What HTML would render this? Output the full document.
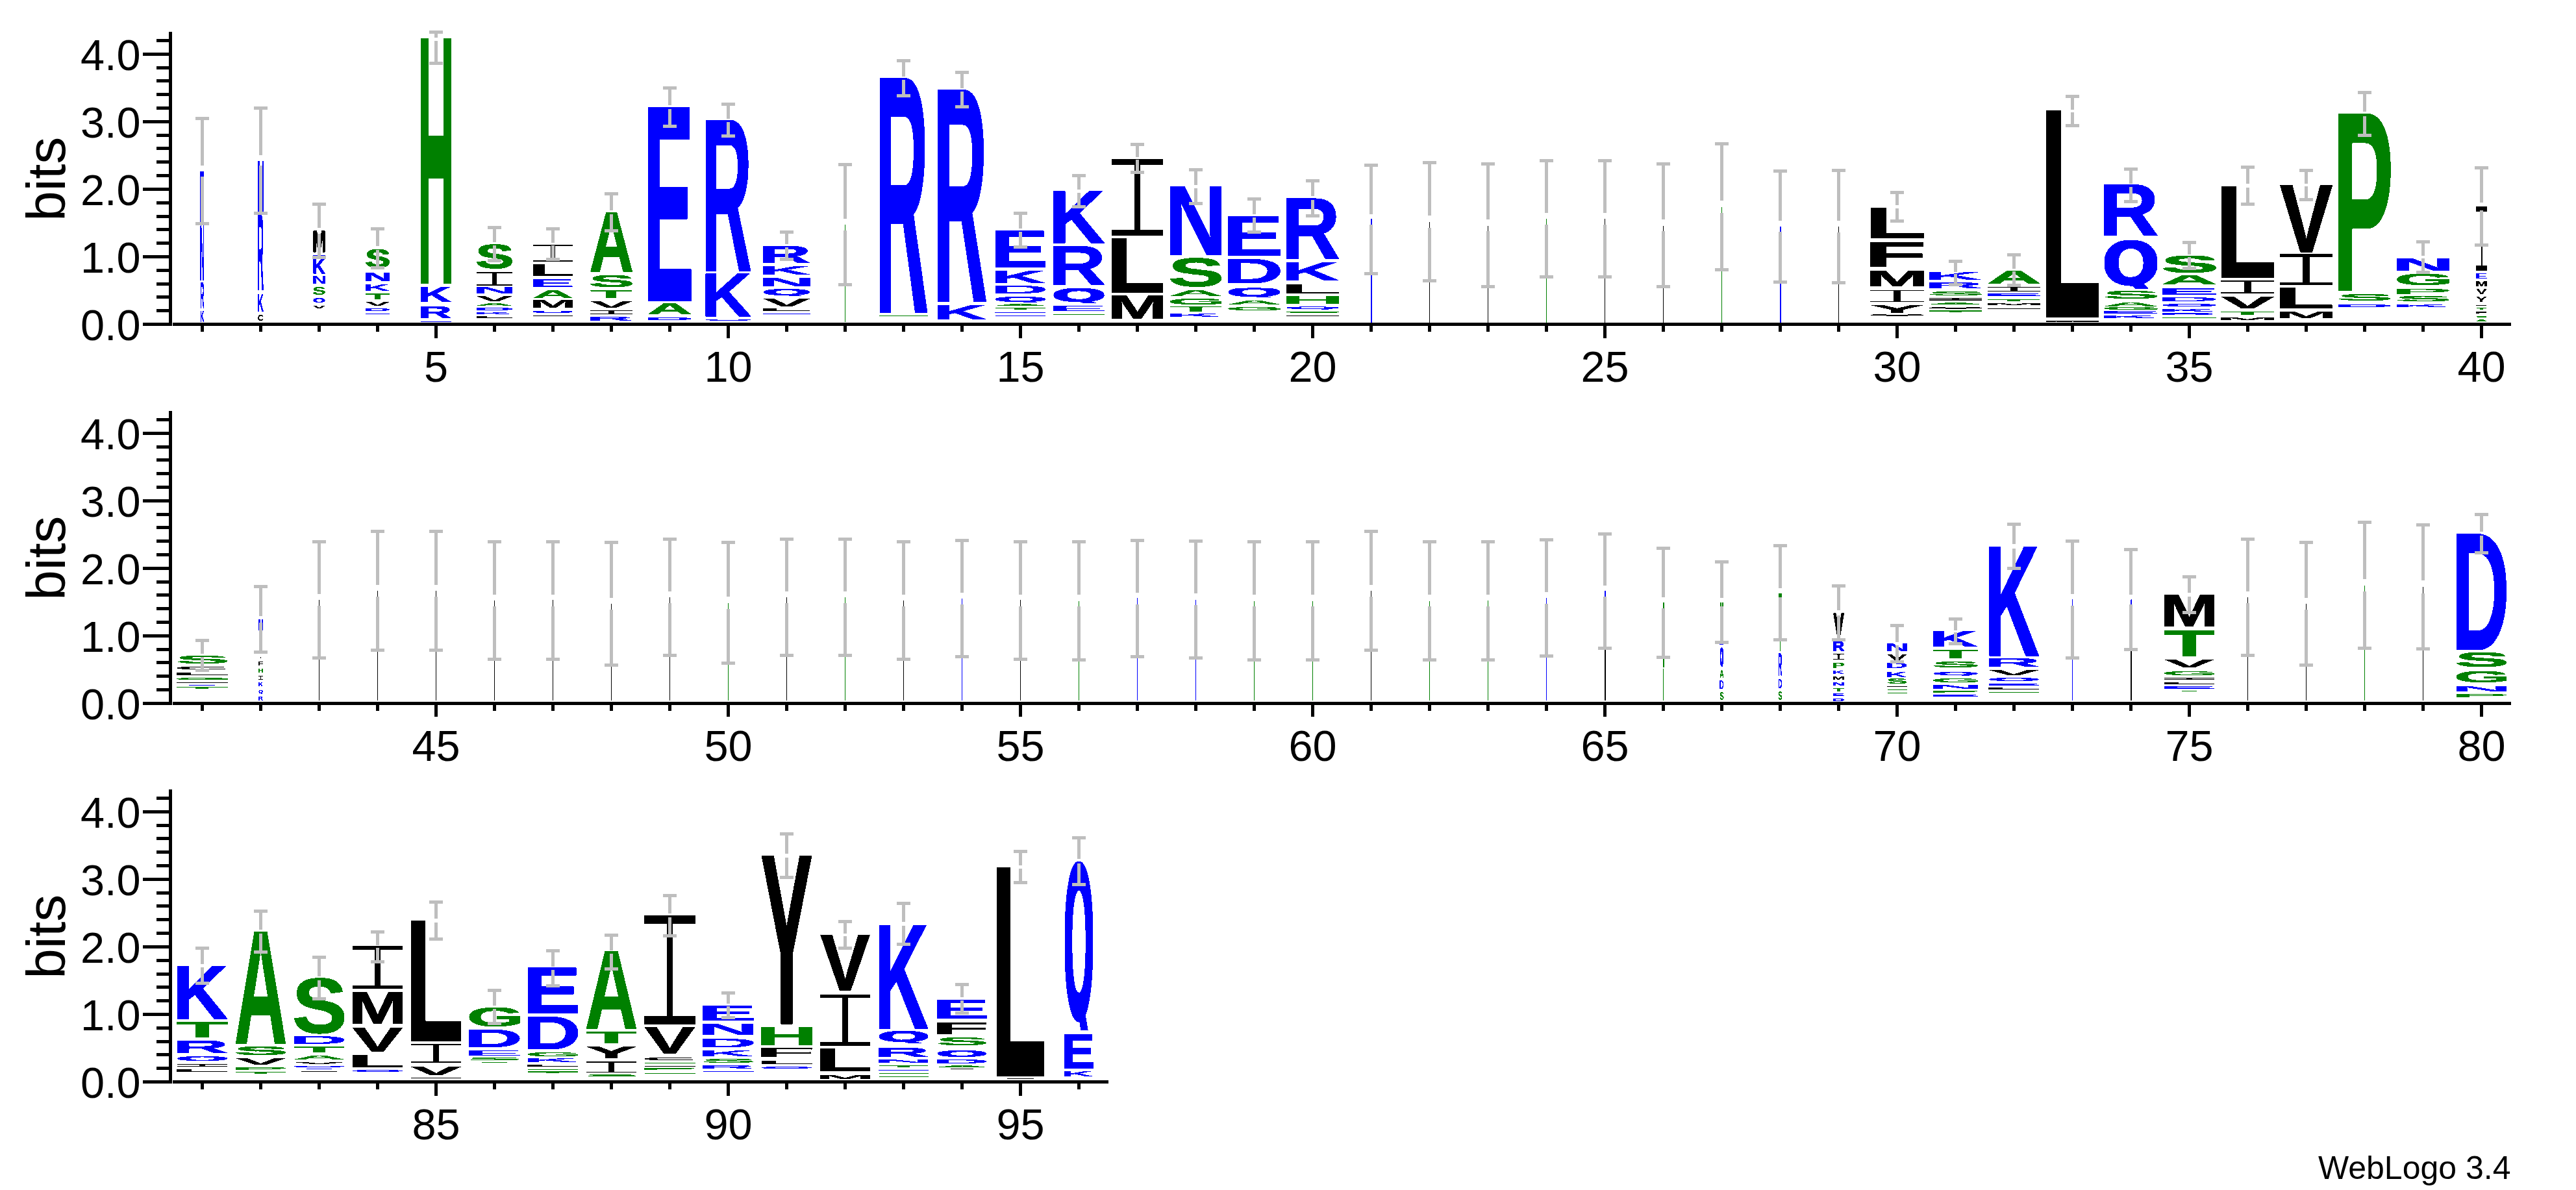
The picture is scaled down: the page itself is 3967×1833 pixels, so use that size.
<!DOCTYPE html>
<html><head><meta charset="utf-8"><title>WebLogo 3.4</title>
<style>
html,body{margin:0;padding:0;background:#fff}
svg{display:block}
text{font-family:"Liberation Sans",sans-serif}
.l{font-weight:bold;font-size:100px}
.i{font-family:"Liberation Mono",monospace;font-weight:normal;font-size:100px}
.q{font-family:"DejaVu Sans",sans-serif;font-weight:bold;font-size:100px}
.n{font-size:66.67px}
.b{fill:#0000ff}.g{fill:#008000}.k{fill:#000}
.s.b{stroke:#0000ff}.s.g{stroke:#008000}.s.k{stroke:#000}
.s{stroke-width:0.9px;vector-effect:non-scaling-stroke;stroke-linejoin:miter}
</style></head>
<body>
<svg width="3967" height="1833" viewBox="0 0 3967 1833" shape-rendering="crispEdges">
<rect width="3967" height="1833" fill="#fff"/>
<defs><filter id="al" filterUnits="userSpaceOnUse" x="0" y="0" width="3967" height="1833" color-interpolation-filters="sRGB"><feComponentTransfer><feFuncA type="discrete" tableValues="0 1 1"/></feComponentTransfer></filter></defs>
<g>
<rect x="260" y="48.9" width="5" height="453.2" fill="#000"/>
<rect x="220" y="497" width="40" height="5" fill="#000"/>
<text class="n" x="216.6" y="523.8" text-anchor="end">0.0</text>
<rect x="241" y="476.19" width="19" height="5" fill="#000"/>
<rect x="241" y="455.38" width="19" height="5" fill="#000"/>
<rect x="241" y="434.57" width="19" height="5" fill="#000"/>
<rect x="241" y="413.76" width="19" height="5" fill="#000"/>
<rect x="220" y="392.95" width="40" height="5" fill="#000"/>
<text class="n" x="216.6" y="419.75" text-anchor="end">1.0</text>
<rect x="241" y="372.14" width="19" height="5" fill="#000"/>
<rect x="241" y="351.33" width="19" height="5" fill="#000"/>
<rect x="241" y="330.52" width="19" height="5" fill="#000"/>
<rect x="241" y="309.71" width="19" height="5" fill="#000"/>
<rect x="220" y="288.9" width="40" height="5" fill="#000"/>
<text class="n" x="216.6" y="315.7" text-anchor="end">2.0</text>
<rect x="241" y="268.09" width="19" height="5" fill="#000"/>
<rect x="241" y="247.28" width="19" height="5" fill="#000"/>
<rect x="241" y="226.47" width="19" height="5" fill="#000"/>
<rect x="241" y="205.66" width="19" height="5" fill="#000"/>
<rect x="220" y="184.85" width="40" height="5" fill="#000"/>
<text class="n" x="216.6" y="211.65" text-anchor="end">3.0</text>
<rect x="241" y="164.04" width="19" height="5" fill="#000"/>
<rect x="241" y="143.23" width="19" height="5" fill="#000"/>
<rect x="241" y="122.42" width="19" height="5" fill="#000"/>
<rect x="241" y="101.61" width="19" height="5" fill="#000"/>
<rect x="220" y="80.8" width="40" height="5" fill="#000"/>
<text class="n" x="216.6" y="107.6" text-anchor="end">4.0</text>
<rect x="241" y="59.99" width="19" height="5" fill="#000"/>
<text font-size="83.33" text-anchor="middle" transform="translate(99.8 275.75) rotate(-90)">bits</text>
<rect x="266" y="496.9" width="3600.5" height="5.2" fill="#000"/>
<rect x="309" y="502" width="5" height="8.8" fill="#000"/>
<rect x="399" y="502" width="5" height="8.8" fill="#000"/>
<rect x="489" y="502" width="5" height="8.8" fill="#000"/>
<rect x="579" y="502" width="5" height="8.8" fill="#000"/>
<rect x="669" y="502" width="5" height="18.5" fill="#000"/>
<text class="n" x="671.5" y="587.7" text-anchor="middle">5</text>
<rect x="759" y="502" width="5" height="8.8" fill="#000"/>
<rect x="849" y="502" width="5" height="8.8" fill="#000"/>
<rect x="939" y="502" width="5" height="8.8" fill="#000"/>
<rect x="1029" y="502" width="5" height="8.8" fill="#000"/>
<rect x="1119" y="502" width="5" height="18.5" fill="#000"/>
<text class="n" x="1121.5" y="587.7" text-anchor="middle">10</text>
<rect x="1209" y="502" width="5" height="8.8" fill="#000"/>
<rect x="1299" y="502" width="5" height="8.8" fill="#000"/>
<rect x="1389" y="502" width="5" height="8.8" fill="#000"/>
<rect x="1479" y="502" width="5" height="8.8" fill="#000"/>
<rect x="1569" y="502" width="5" height="18.5" fill="#000"/>
<text class="n" x="1571.5" y="587.7" text-anchor="middle">15</text>
<rect x="1659" y="502" width="5" height="8.8" fill="#000"/>
<rect x="1749" y="502" width="5" height="8.8" fill="#000"/>
<rect x="1839" y="502" width="5" height="8.8" fill="#000"/>
<rect x="1929" y="502" width="5" height="8.8" fill="#000"/>
<rect x="2019" y="502" width="5" height="18.5" fill="#000"/>
<text class="n" x="2021.5" y="587.7" text-anchor="middle">20</text>
<rect x="2109" y="502" width="5" height="8.8" fill="#000"/>
<rect x="2199" y="502" width="5" height="8.8" fill="#000"/>
<rect x="2289" y="502" width="5" height="8.8" fill="#000"/>
<rect x="2379" y="502" width="5" height="8.8" fill="#000"/>
<rect x="2469" y="502" width="5" height="18.5" fill="#000"/>
<text class="n" x="2471.5" y="587.7" text-anchor="middle">25</text>
<rect x="2559" y="502" width="5" height="8.8" fill="#000"/>
<rect x="2649" y="502" width="5" height="8.8" fill="#000"/>
<rect x="2739" y="502" width="5" height="8.8" fill="#000"/>
<rect x="2829" y="502" width="5" height="8.8" fill="#000"/>
<rect x="2919" y="502" width="5" height="18.5" fill="#000"/>
<text class="n" x="2921.5" y="587.7" text-anchor="middle">30</text>
<rect x="3009" y="502" width="5" height="8.8" fill="#000"/>
<rect x="3099" y="502" width="5" height="8.8" fill="#000"/>
<rect x="3189" y="502" width="5" height="8.8" fill="#000"/>
<rect x="3279" y="502" width="5" height="8.8" fill="#000"/>
<rect x="3369" y="502" width="5" height="18.5" fill="#000"/>
<text class="n" x="3371.5" y="587.7" text-anchor="middle">35</text>
<rect x="3459" y="502" width="5" height="8.8" fill="#000"/>
<rect x="3549" y="502" width="5" height="8.8" fill="#000"/>
<rect x="3639" y="502" width="5" height="8.8" fill="#000"/>
<rect x="3729" y="502" width="5" height="8.8" fill="#000"/>
<rect x="3819" y="502" width="5" height="18.5" fill="#000"/>
<text class="n" x="3821.5" y="587.7" text-anchor="middle">40</text>
<g filter="url(#al)">
<text class="l b" transform="matrix(0.08514 0 0 0.24419 308.18 495.5)">K</text>
<text class="l b" transform="matrix(0.08665 0 0 0.57414 308.17 474.5)">R</text>
<text class="l b" transform="matrix(0.09355 0 0 1.22822 308.12 431.5)">N</text>
<text class="l b" transform="matrix(0.09803 0 0 1.15554 308.09 343)">E</text>
<text class="l k" transform="matrix(0.12848 0 0 0.13418 396.77 494.37)">C</text>
<text class="l b" transform="matrix(0.13003 0 0 0.39681 396.43 479.8)">K</text>
<text class="l b" transform="matrix(0.13233 0 0 1.69189 396.41 447)">R</text>
<text class="l b" transform="matrix(0.14288 0 0 1.15554 396.34 326.5)">N</text>
<text class="l k" transform="matrix(0.28317 0 0 0.06105 482.06 475.2)">V</text>
<svg x="482.25" y="458.8" width="18.5" height="7.3"><text class="q b" transform="matrix(0.24667 0 0 0.09169 -1.23 6.81)">Q</text></svg>
<text class="l g" transform="matrix(0.30879 0 0 0.16384 481.36 454.04)">S</text>
<text class="l b" transform="matrix(0.31468 0 0 0.17151 480.14 437.4)">N</text>
<text class="l s b" transform="matrix(0.26780 0 0 0.31687 481.06 421.4)">K</text>
<rect x="482.25" y="393" width="18.5" height="1" fill="#0000ff"/>
<text class="l b" transform="matrix(0.29145 0 0 0.01599 480.3 394.3)">R</text>
<text class="l s k" transform="matrix(0.24742 0 0 0.45640 481.19 388.4)">M</text>
<rect x="562.9" y="483" width="37.2" height="1" fill="#0000ff"/>
<text class="l b" transform="matrix(0.66306 0 0 0.01599 558.46 483.8)">E</text>
<text class="l b" transform="matrix(0.60657 0 0 0.06105 558.84 479.4)">D</text>
<text class="l k" transform="matrix(0.56940 0 0 0.09302 562.51 471.4)">V</text>
<text class="l g" transform="matrix(0.63172 0 0 0.12355 562.19 460.5)">T</text>
<text class="l b" transform="matrix(0.57585 0 0 0.15262 559.05 447.9)">K</text>
<text class="l s b" transform="matrix(0.61236 0 0 0.18314 559.4 432.6)">N</text>
<text class="l s g" transform="matrix(0.60088 0 0 0.41242 561.77 412)">S</text>
<rect x="648" y="495" width="47" height="1" fill="#0000ff"/>
<text class="l b" transform="matrix(0.83774 0 0 0.01744 642.4 495.7)">E</text>
<text class="l s b" transform="matrix(0.72153 0 0 0.26454 643.77 489.7)">R</text>
<text class="l s b" transform="matrix(0.70898 0 0 0.34012 643.86 465.1)">K</text>
<text class="l s g" transform="matrix(0.77906 0 0 5.47393 643.39 436.1)">H</text>
<text class="i k" transform="matrix(1.37612 0 0 0.31881 720.28 439.9)">I</text>
<rect x="733.25" y="420.54" width="24.77" height="17.72" fill="#fff"/>
<rect x="764.98" y="420.54" width="24.77" height="17.72" fill="#fff"/>
<text class="l k" transform="matrix(1.07759 0 0 0.03052 726.64 489.9)">L</text>
<text class="l b" transform="matrix(0.85604 0 0 0.04215 728.12 484.4)">K</text>
<text class="l b" transform="matrix(0.90171 0 0 0.05233 727.82 478.1)">D</text>
<text class="l g" transform="matrix(0.82427 0 0 0.05233 731.8 471.4)">A</text>
<text class="l k" transform="matrix(0.84645 0 0 0.10029 733.27 464)">V</text>
<text class="l b" transform="matrix(0.94065 0 0 0.13808 727.56 452.1)">N</text>
<text class="l s g" transform="matrix(0.90299 0 0 0.52118 731.85 412.89)">S</text>
<text class="i k" transform="matrix(1.52542 0 0 0.39320 805.8 402.7)">I</text>
<rect x="820.25" y="378.82" width="27.39" height="21.86" fill="#fff"/>
<rect x="855.36" y="378.82" width="27.39" height="21.86" fill="#fff"/>
<rect x="820.85" y="486" width="61.3" height="1" fill="#000000"/>
<text class="l k" transform="matrix(1.19450 0 0 0.01599 812.86 486.8)">L</text>
<svg x="820.85" y="478.7" width="61.3" height="3.8"><text class="q b" transform="matrix(0.81733 0 0 0.04773 -4.07 3.54)">Q</text></svg>
<text class="l k" transform="matrix(0.85953 0 0 0.15843 815.7 473.5)">M</text>
<text class="l g" transform="matrix(0.89581 0 0 0.16425 819.22 458.6)">A</text>
<text class="l b" transform="matrix(1.07123 0 0 0.16425 814.28 442)">E</text>
<text class="l s k" transform="matrix(1.17112 0 0 0.25291 813.62 425)">L</text>
<text class="i k" transform="matrix(1.61003 0 0 0.08350 893.27 483.6)">I</text>
<rect x="909.15" y="478" width="64.7" height="1" fill="#000000"/>
<rect x="909.15" y="483" width="64.7" height="1" fill="#000000"/>
<rect x="908.55" y="479" width="28.87" height="4" fill="#fff"/>
<rect x="945.58" y="479" width="28.87" height="4" fill="#fff"/>
<text class="l b" transform="matrix(1.01927 0 0 0.09157 902.33 494.1)">R</text>
<text class="l k" transform="matrix(0.99033 0 0 0.13808 908.47 473.5)">V</text>
<text class="l g" transform="matrix(1.07834 0 0 0.17297 908.54 459.2)">T</text>
<text class="l s g" transform="matrix(1.05989 0 0 0.24858 906.7 441.76)">S</text>
<text class="l s g" transform="matrix(0.94649 0 0 1.31979 907.39 418.3)">A</text>
<text class="l b" transform="matrix(1.08596 0 0 0.06105 990.94 493)">D</text>
<text class="l s g" transform="matrix(0.97481 0 0 0.23111 996.37 484.4)">A</text>
<text class="l s b" transform="matrix(1.16570 0 0 4.32711 991 463.4)">E</text>
<svg x="1086.5" y="492" width="70" height="2.5"><text class="q b" transform="matrix(0.93333 0 0 0.03140 -4.65 2.33)">Q</text></svg>
<text class="l s b" transform="matrix(1.06502 0 0 0.93752 1079.98 487.2)">K</text>
<text class="l s b" transform="matrix(1.08386 0 0 3.37070 1079.85 417.2)">R</text>
<text class="l s b" transform="matrix(1.11695 0 0 0.37501 1168.58 404.5)">R</text>
<text class="l s b" transform="matrix(1.09753 0 0 0.18169 1168.71 423.2)">K</text>
<text class="l s b" transform="matrix(1.20601 0 0 0.17733 1167.98 440.7)">N</text>
<svg x="1176.05" y="445.1" width="70.9" height="11"><text class="q b" transform="matrix(0.94533 0 0 0.13816 -4.71 10.25)">Q</text></svg>
<text class="l k" transform="matrix(1.10359 0 0 0.16425 1174.7 472)">V</text>
<text class="l k" transform="matrix(1.40496 0 0 0.05087 1166.05 479.4)">L</text>
<rect x="1175.45" y="483" width="72.1" height="1" fill="#0000ff"/>
<text class="l b" transform="matrix(1.28512 0 0 0.01744 1166.85 484.1)">E</text>
<rect x="1301" y="346.1" width="1" height="149.5" fill="#008000"/>
<text class="l g" transform="matrix(0.01698 0 0 2.17300 1300.98 495.6)">T</text>
<text class="l s b" transform="matrix(1.15003 0 0 5.24137 1347.31 481.4)">R</text>
<rect x="1354.4" y="486" width="74.2" height="1" fill="#008000"/>
<text class="l g" transform="matrix(1.26005 0 0 0.01890 1352.98 487.1)">T</text>
<text class="l s b" transform="matrix(1.17051 0 0 4.73119 1436.52 464.3)">R</text>
<text class="l s b" transform="matrix(1.15016 0 0 0.31541 1436.66 492.2)">K</text>
<text class="l s b" transform="matrix(1.35820 0 0 0.82414 1524.31 411.5)">E</text>
<text class="l s b" transform="matrix(1.17957 0 0 0.27326 1525.51 436.3)">K</text>
<text class="l b" transform="matrix(1.26206 0 0 0.17006 1524.36 451.8)">D</text>
<svg x="1532.8" y="457.2" width="77.4" height="8.7"><text class="q b" transform="matrix(1.03200 0 0 0.10928 -5.14 8.11)">Q</text></svg>
<text class="l g" transform="matrix(1.15368 0 0 0.02907 1529.93 471.2)">A</text>
<text class="l g" transform="matrix(1.31439 0 0 0.03052 1531.32 476.8)">T</text>
<rect x="1532.8" y="481" width="77.4" height="1" fill="#0000ff"/>
<text class="l b" transform="matrix(1.31657 0 0 0.01454 1523.99 481.6)">N</text>
<rect x="1532.8" y="486" width="77.4" height="1" fill="#0000ff"/>
<text class="l b" transform="matrix(1.21935 0 0 0.01744 1524.64 486.7)">R</text>
<text class="l s b" transform="matrix(1.20434 0 0 1.15700 1614.54 374.3)">K</text>
<text class="l s b" transform="matrix(1.22565 0 0 0.85031 1614.4 438.1)">R</text>
<svg x="1622.6" y="443.9" width="77.8" height="23"><text class="q s b" transform="matrix(1.03733 0 0 0.28889 -5.17 21.44)">Q</text></svg>
<text class="l b" transform="matrix(1.40811 0 0 0.10175 1612.58 479)">E</text>
<rect x="1622" y="484" width="79" height="1" fill="#008000"/>
<text class="l g" transform="matrix(1.34156 0 0 0.02035 1620.49 485.1)">T</text>
<text class="i k" transform="matrix(1.96588 0 0 1.78536 1692.61 362.8)">I</text>
<rect x="1711.4" y="254.37" width="35.12" height="99.25" fill="#fff"/>
<rect x="1756.48" y="254.37" width="35.12" height="99.25" fill="#fff"/>
<text class="l s k" transform="matrix(1.51603 0 0 1.19479 1702.46 449.9)">L</text>
<text class="l s k" transform="matrix(1.11267 0 0 0.51454 1705.16 491)">M</text>
<text class="l s b" transform="matrix(1.32678 0 0 1.52037 1793.62 392.3)">N</text>
<text class="l s g" transform="matrix(1.30191 0 0 0.62287 1798.75 441.49)">S</text>
<text class="l g" transform="matrix(1.18051 0 0 0.13663 1798.96 456.1)">A</text>
<text class="l g" transform="matrix(1.17367 0 0 0.13135 1797.09 468.77)">G</text>
<text class="l g" transform="matrix(1.34496 0 0 0.10175 1800.39 479.9)">T</text>
<text class="l b" transform="matrix(1.22601 0 0 0.06395 1793.7 488.1)">K</text>
<text class="l s b" transform="matrix(1.41346 0 0 0.89682 1882.39 394.4)">E</text>
<text class="l s b" transform="matrix(1.29304 0 0 0.53489 1883.2 436)">D</text>
<svg x="1891.85" y="443.4" width="79.3" height="14.9"><text class="q s b" transform="matrix(1.05733 0 0 0.18715 -5.27 13.89)">Q</text></svg>
<text class="l g" transform="matrix(1.19988 0 0 0.09302 1888.26 469.2)">A</text>
<text class="l g" transform="matrix(1.19294 0 0 0.06921 1886.36 478.43)">G</text>
<text class="l s b" transform="matrix(1.25558 0 0 1.34014 1973.25 397.9)">R</text>
<text class="l s b" transform="matrix(1.23375 0 0 0.41280 1973.4 432.1)">K</text>
<text class="l s k" transform="matrix(1.55305 0 0 0.19768 1971.26 451.7)">L</text>
<text class="l g" transform="matrix(1.37611 0 0 0.15698 1971.84 468)">H</text>
<svg x="1981.05" y="472.4" width="80.9" height="4.3"><text class="q b" transform="matrix(1.07867 0 0 0.05401 -5.37 4.01)">Q</text></svg>
<rect x="1981.05" y="480" width="80.9" height="1" fill="#008000"/>
<text class="l g" transform="matrix(1.35031 0 0 0.02401 1977.16 481.58)">S</text>
<rect x="1981.05" y="486" width="80.9" height="1" fill="#000000"/>
<text class="l k" transform="matrix(1.23829 0 0 0.01599 1980.2 486.9)">V</text>
<rect x="2111" y="337" width="2" height="159.5" fill="#0000ff"/>
<text class="l b" transform="matrix(0.03096 0 0 2.31835 2110.79 496.5)">K</text>
<rect x="2201" y="342.1" width="1" height="154.4" fill="#000000"/>
<text class="l k" transform="matrix(0.01949 0 0 2.24422 2200.87 496.5)">L</text>
<rect x="2291" y="347.6" width="1" height="148.9" fill="#000000"/>
<text class="l k" transform="matrix(0.01430 0 0 2.16428 2290.9 496.5)">M</text>
<rect x="2381" y="337" width="1" height="159.5" fill="#008000"/>
<text class="l g" transform="matrix(0.01669 0 0 2.25280 2380.95 494.3)">S</text>
<rect x="2471" y="337" width="1" height="159.5" fill="#000000"/>
<text class="l k" transform="matrix(0.01531 0 0 2.31835 2470.99 496.5)">V</text>
<rect x="2561" y="347.6" width="1" height="148.9" fill="#000000"/>
<text class="l k" transform="matrix(0.01949 0 0 2.16428 2560.87 496.5)">L</text>
<rect x="2651" y="318.7" width="1" height="177.8" fill="#008000"/>
<text class="l g" transform="matrix(0.01698 0 0 2.58435 2650.98 496.5)">T</text>
<rect x="2741" y="348.8" width="2" height="147.7" fill="#0000ff"/>
<text class="l b" transform="matrix(0.03565 0 0 2.14684 2740.76 496.5)">E</text>
<rect x="2831" y="348.8" width="1" height="147.7" fill="#000000"/>
<text class="l k" transform="matrix(0.01971 0 0 2.14684 2830.87 496.5)">F</text>
<text class="i k" transform="matrix(2.03556 0 0 0.28390 2860.52 465.1)">I</text>
<rect x="2880" y="447.86" width="36.35" height="15.78" fill="#fff"/>
<rect x="2926.65" y="447.86" width="36.35" height="15.78" fill="#fff"/>
<text class="l s k" transform="matrix(1.57059 0 0 0.69042 2870.69 366.9)">L</text>
<text class="l s k" transform="matrix(1.58873 0 0 0.55670 2870.57 411.2)">F</text>
<text class="l s k" transform="matrix(1.15272 0 0 0.35466 2873.49 441.4)">M</text>
<text class="l k" transform="matrix(1.29065 0 0 0.17297 2878.39 481.9)">Y</text>
<rect x="2880.6" y="485" width="81.8" height="1" fill="#000000"/>
<text class="l k" transform="matrix(1.25207 0 0 0.02616 2879.74 486.6)">V</text>
<text class="i k" transform="matrix(2.01316 0 0 0.05314 2951.19 462.5)">I</text>
<rect x="2971.05" y="459" width="80.9" height="1" fill="#000000"/>
<rect x="2971.05" y="461" width="80.9" height="1" fill="#000000"/>
<rect x="2970.45" y="460" width="35.95" height="1" fill="#fff"/>
<rect x="3016.6" y="460" width="35.95" height="1" fill="#fff"/>
<text class="l b" transform="matrix(1.25233 0 0 0.15989 2962.67 431.2)">K</text>
<text class="l b" transform="matrix(1.27449 0 0 0.12791 2962.52 443.8)">R</text>
<text class="l g" transform="matrix(1.35031 0 0 0.09181 2967.16 455.41)">S</text>
<text class="l g" transform="matrix(1.20585 0 0 0.03488 2968.05 469.4)">A</text>
<rect x="2971.05" y="474" width="80.9" height="1" fill="#000000"/>
<text class="l k" transform="matrix(1.23829 0 0 0.02762 2970.2 475.7)">V</text>
<rect x="2971.05" y="479" width="80.9" height="1" fill="#008000"/>
<text class="l g" transform="matrix(1.37382 0 0 0.02616 2969.51 481)">T</text>
<text class="i k" transform="matrix(2.01316 0 0 0.10172 3041.19 448.7)">I</text>
<rect x="3061.05" y="442" width="80.9" height="1" fill="#000000"/>
<rect x="3061.05" y="448" width="80.9" height="1" fill="#000000"/>
<rect x="3060.45" y="443" width="35.95" height="5" fill="#fff"/>
<rect x="3106.6" y="443" width="35.95" height="5" fill="#fff"/>
<text class="l s g" transform="matrix(1.18796 0 0 0.30378 3058.69 437.4)">A</text>
<text class="l b" transform="matrix(1.44198 0 0 0.04797 3051.4 456.3)">E</text>
<text class="l g" transform="matrix(1.37382 0 0 0.04361 3059.51 463.9)">T</text>
<text class="l k" transform="matrix(1.15701 0 0 0.03052 3053.31 470.3)">M</text>
<rect x="3061.05" y="475" width="80.9" height="1" fill="#000000"/>
<text class="l k" transform="matrix(1.57643 0 0 0.01454 3050.5 475.9)">L</text>
<text class="l s k" transform="matrix(1.55110 0 0 4.61345 3141.32 488.2)">L</text>
<rect x="3151.1" y="494" width="80.8" height="1" fill="#000000"/>
<text class="l k" transform="matrix(1.15558 0 0 0.02326 3143.37 495.7)">M</text>
<text class="l s b" transform="matrix(1.28236 0 0 1.12357 3232.22 363)">R</text>
<svg x="3240.8" y="370.2" width="81.4" height="74.2"><text class="q s b" transform="matrix(1.08533 0 0 0.93198 -5.41 69.17)">Q</text></svg>
<text class="l g" transform="matrix(1.35866 0 0 0.15819 3236.89 460.45)">S</text>
<text class="l g" transform="matrix(1.23118 0 0 0.08285 3237.13 471.7)">A</text>
<text class="l g" transform="matrix(1.22406 0 0 0.04943 3235.18 476.55)">G</text>
<text class="l b" transform="matrix(1.47228 0 0 0.04651 3230.35 483.1)">E</text>
<text class="l b" transform="matrix(1.27865 0 0 0.04651 3231.65 490.1)">K</text>
<text class="l s g" transform="matrix(1.35699 0 0 0.36440 3326.94 420.14)">S</text>
<text class="l s g" transform="matrix(1.21181 0 0 0.19622 3327.83 438.4)">A</text>
<text class="l b" transform="matrix(1.47050 0 0 0.14244 3320.41 453.9)">E</text>
<text class="l b" transform="matrix(1.34522 0 0 0.09157 3321.25 464.4)">D</text>
<svg x="3330.25" y="468.2" width="82.5" height="4.4"><text class="q b" transform="matrix(1.10000 0 0 0.05527 -5.48 4.1)">Q</text></svg>
<text class="l b" transform="matrix(1.27710 0 0 0.05669 3321.71 479.6)">K</text>
<text class="l b" transform="matrix(1.29969 0 0 0.03779 3321.56 485.3)">R</text>
<rect x="3330.25" y="489" width="82.5" height="1" fill="#008000"/>
<text class="l g" transform="matrix(1.40100 0 0 0.02035 3328.68 490.1)">T</text>
<text class="i k" transform="matrix(2.03556 0 0 0.30211 3400.52 452)">I</text>
<rect x="3420" y="433.65" width="36.35" height="16.8" fill="#fff"/>
<rect x="3466.65" y="433.65" width="36.35" height="16.8" fill="#fff"/>
<text class="l s k" transform="matrix(1.57059 0 0 2.03056 3410.69 427.4)">L</text>
<text class="l s k" transform="matrix(1.23370 0 0 0.26018 3420.36 474.6)">V</text>
<text class="l g" transform="matrix(1.38911 0 0 0.07122 3419.04 484.8)">T</text>
<text class="l k" transform="matrix(1.16988 0 0 0.05523 3412.77 493)">M</text>
<text class="i k" transform="matrix(2.02063 0 0 0.71505 3490.97 439)">I</text>
<rect x="3510.3" y="395.57" width="36.08" height="39.75" fill="#fff"/>
<rect x="3556.62" y="395.57" width="36.08" height="39.75" fill="#fff"/>
<text class="l s k" transform="matrix(1.22451 0 0 1.48404 3510.66 387.8)">V</text>
<text class="l s k" transform="matrix(1.55890 0 0 0.45350 3501.07 475.1)">L</text>
<text class="l k" transform="matrix(1.16130 0 0 0.14535 3503.13 490.1)">M</text>
<text class="l s g" transform="matrix(1.40833 0 0 3.94920 3592.23 447.2)">P</text>
<text class="l g" transform="matrix(1.33028 0 0 0.15395 3597.82 463.45)">S</text>
<text class="l b" transform="matrix(1.31913 0 0 0.05523 3592.23 472.9)">D</text>
<text class="l s b" transform="matrix(1.35059 0 0 0.28489 3682.77 416.5)">N</text>
<text class="l s g" transform="matrix(1.17664 0 0 0.24152 3686.97 438.76)">G</text>
<text class="l g" transform="matrix(1.42423 0 0 0.11337 3681.67 452.8)">P</text>
<text class="l g" transform="matrix(1.34530 0 0 0.10311 3687.32 464)">S</text>
<text class="l b" transform="matrix(1.24769 0 0 0.06105 3682.85 472.9)">K</text>
<text class="i k" transform="matrix(0.39566 0 0 1.49539 3809.65 416.8)">I</text>
<rect x="3812.95" y="325.98" width="7.55" height="83.13" fill="#fff"/>
<rect x="3822.5" y="325.98" width="7.55" height="83.13" fill="#fff"/>
<text class="l b" transform="matrix(0.28340 0 0 0.11047 3811.65 428.8)">E</text>
<text class="l k" transform="matrix(0.22740 0 0 0.11192 3812.03 440.6)">M</text>
<text class="l k" transform="matrix(0.24337 0 0 0.11337 3813.38 452.8)">V</text>
<text class="l k" transform="matrix(0.25087 0 0 0.11337 3813.12 465)">Y</text>
<rect x="3813.55" y="470" width="15.9" height="1" fill="#000000"/>
<text class="l k" transform="matrix(0.30983 0 0 0.02471 3811.48 470.7)">L</text>
<text class="l g" transform="matrix(0.27001 0 0 0.02907 3813.25 477.1)">T</text>
<rect x="3813.55" y="481" width="15.9" height="1" fill="#000000"/>
<text class="l k" transform="matrix(0.31341 0 0 0.02762 3811.45 482.9)">F</text>
<rect x="3813.55" y="487" width="15.9" height="1" fill="#008000"/>
<text class="l g" transform="matrix(0.26539 0 0 0.02401 3812.79 488.78)">S</text>
<text class="l g" transform="matrix(0.23700 0 0 0.03198 3812.96 495)">A</text>
</g>
<rect x="301" y="180" width="21" height="5" fill="#bebebe"/>
<rect x="301" y="342" width="21" height="5" fill="#bebebe"/>
<rect x="309" y="182.6" width="5" height="72.86" fill="#bebebe"/>
<rect x="309" y="271.64" width="5" height="72.86" fill="#bebebe"/>
<rect x="391" y="164" width="21" height="5" fill="#bebebe"/>
<rect x="391" y="326" width="21" height="5" fill="#bebebe"/>
<rect x="399" y="166.5" width="5" height="72.68" fill="#bebebe"/>
<rect x="399" y="255.32" width="5" height="72.68" fill="#bebebe"/>
<rect x="481" y="312" width="21" height="5" fill="#bebebe"/>
<rect x="481" y="394" width="21" height="5" fill="#bebebe"/>
<rect x="489" y="314.6" width="5" height="36.86" fill="#bebebe"/>
<rect x="489" y="359.64" width="5" height="36.86" fill="#bebebe"/>
<rect x="571" y="350" width="21" height="5" fill="#bebebe"/>
<rect x="571" y="410" width="21" height="5" fill="#bebebe"/>
<rect x="579" y="352.6" width="5" height="26.87" fill="#bebebe"/>
<rect x="579" y="385.44" width="5" height="26.86" fill="#bebebe"/>
<rect x="661" y="47" width="21" height="5" fill="#bebebe"/>
<rect x="661" y="95" width="21" height="5" fill="#bebebe"/>
<rect x="669" y="49.6" width="5" height="8.82" fill="#bebebe"/>
<rect x="669" y="63.21" width="5" height="34.29" fill="#bebebe"/>
<rect x="751" y="348" width="21" height="5" fill="#bebebe"/>
<rect x="751" y="399" width="21" height="5" fill="#bebebe"/>
<rect x="759" y="350.5" width="5" height="22.86" fill="#bebebe"/>
<rect x="759" y="378.44" width="5" height="22.86" fill="#bebebe"/>
<rect x="841" y="350" width="21" height="5" fill="#bebebe"/>
<rect x="841" y="397" width="21" height="5" fill="#bebebe"/>
<rect x="849" y="352.6" width="5" height="21.11" fill="#bebebe"/>
<rect x="849" y="378.39" width="5" height="21.11" fill="#bebebe"/>
<rect x="931" y="296" width="21" height="5" fill="#bebebe"/>
<rect x="931" y="353" width="21" height="5" fill="#bebebe"/>
<rect x="939" y="298.6" width="5" height="25.61" fill="#bebebe"/>
<rect x="939" y="329.89" width="5" height="25.61" fill="#bebebe"/>
<rect x="1021" y="133" width="21" height="5" fill="#bebebe"/>
<rect x="1021" y="192" width="21" height="5" fill="#bebebe"/>
<rect x="1029" y="135.2" width="5" height="26.55" fill="#bebebe"/>
<rect x="1029" y="167.65" width="5" height="26.55" fill="#bebebe"/>
<rect x="1111" y="158" width="21" height="5" fill="#bebebe"/>
<rect x="1111" y="207" width="21" height="5" fill="#bebebe"/>
<rect x="1119" y="161" width="5" height="21.96" fill="#bebebe"/>
<rect x="1119" y="187.84" width="5" height="21.96" fill="#bebebe"/>
<rect x="1201" y="355" width="21" height="5" fill="#bebebe"/>
<rect x="1201" y="397" width="21" height="5" fill="#bebebe"/>
<rect x="1209" y="357.5" width="5" height="18.86" fill="#bebebe"/>
<rect x="1209" y="380.54" width="5" height="18.86" fill="#bebebe"/>
<rect x="1291" y="251" width="21" height="5" fill="#bebebe"/>
<rect x="1291" y="436" width="21" height="5" fill="#bebebe"/>
<rect x="1299" y="253.4" width="5" height="83.21" fill="#bebebe"/>
<rect x="1299" y="355.1" width="5" height="83.2" fill="#bebebe"/>
<rect x="1381" y="91" width="21" height="5" fill="#bebebe"/>
<rect x="1381" y="145" width="21" height="5" fill="#bebebe"/>
<rect x="1389" y="93.5" width="5" height="24.12" fill="#bebebe"/>
<rect x="1389" y="122.98" width="5" height="24.12" fill="#bebebe"/>
<rect x="1471" y="109" width="21" height="5" fill="#bebebe"/>
<rect x="1471" y="162" width="21" height="5" fill="#bebebe"/>
<rect x="1479" y="111.9" width="5" height="23.76" fill="#bebebe"/>
<rect x="1479" y="140.94" width="5" height="23.76" fill="#bebebe"/>
<rect x="1561" y="326" width="21" height="5" fill="#bebebe"/>
<rect x="1561" y="378" width="21" height="5" fill="#bebebe"/>
<rect x="1569" y="328.8" width="5" height="23.35" fill="#bebebe"/>
<rect x="1569" y="357.35" width="5" height="23.35" fill="#bebebe"/>
<rect x="1651" y="268" width="21" height="5" fill="#bebebe"/>
<rect x="1651" y="316" width="21" height="5" fill="#bebebe"/>
<rect x="1659" y="270.2" width="5" height="21.65" fill="#bebebe"/>
<rect x="1659" y="296.65" width="5" height="21.65" fill="#bebebe"/>
<rect x="1741" y="220" width="21" height="5" fill="#bebebe"/>
<rect x="1741" y="263" width="21" height="5" fill="#bebebe"/>
<rect x="1749" y="222.1" width="5" height="19.71" fill="#bebebe"/>
<rect x="1749" y="246.19" width="5" height="19.71" fill="#bebebe"/>
<rect x="1831" y="259" width="21" height="5" fill="#bebebe"/>
<rect x="1831" y="311" width="21" height="5" fill="#bebebe"/>
<rect x="1839" y="261.2" width="5" height="23.4" fill="#bebebe"/>
<rect x="1839" y="289.8" width="5" height="23.4" fill="#bebebe"/>
<rect x="1921" y="304" width="21" height="5" fill="#bebebe"/>
<rect x="1921" y="355" width="21" height="5" fill="#bebebe"/>
<rect x="1929" y="307" width="5" height="22.68" fill="#bebebe"/>
<rect x="1929" y="334.72" width="5" height="22.68" fill="#bebebe"/>
<rect x="2011" y="276" width="21" height="5" fill="#bebebe"/>
<rect x="2011" y="330" width="21" height="5" fill="#bebebe"/>
<rect x="2019" y="278" width="5" height="24.44" fill="#bebebe"/>
<rect x="2019" y="307.87" width="5" height="24.44" fill="#bebebe"/>
<rect x="2101" y="252" width="21" height="5" fill="#bebebe"/>
<rect x="2101" y="419" width="21" height="5" fill="#bebebe"/>
<rect x="2109" y="254.6" width="5" height="75.06" fill="#bebebe"/>
<rect x="2109" y="346.34" width="5" height="75.06" fill="#bebebe"/>
<rect x="2191" y="248" width="21" height="5" fill="#bebebe"/>
<rect x="2191" y="430" width="21" height="5" fill="#bebebe"/>
<rect x="2199" y="250.7" width="5" height="81.76" fill="#bebebe"/>
<rect x="2199" y="350.63" width="5" height="81.77" fill="#bebebe"/>
<rect x="2281" y="250" width="21" height="5" fill="#bebebe"/>
<rect x="2281" y="439" width="21" height="5" fill="#bebebe"/>
<rect x="2289" y="252.6" width="5" height="84.96" fill="#bebebe"/>
<rect x="2289" y="356.44" width="5" height="84.96" fill="#bebebe"/>
<rect x="2371" y="245" width="21" height="5" fill="#bebebe"/>
<rect x="2371" y="424" width="21" height="5" fill="#bebebe"/>
<rect x="2379" y="247.5" width="5" height="80.55" fill="#bebebe"/>
<rect x="2379" y="345.95" width="5" height="80.55" fill="#bebebe"/>
<rect x="2461" y="245" width="21" height="5" fill="#bebebe"/>
<rect x="2461" y="424" width="21" height="5" fill="#bebebe"/>
<rect x="2469" y="247.5" width="5" height="80.55" fill="#bebebe"/>
<rect x="2469" y="345.95" width="5" height="80.55" fill="#bebebe"/>
<rect x="2551" y="250" width="21" height="5" fill="#bebebe"/>
<rect x="2551" y="439" width="21" height="5" fill="#bebebe"/>
<rect x="2559" y="252.6" width="5" height="84.96" fill="#bebebe"/>
<rect x="2559" y="356.44" width="5" height="84.96" fill="#bebebe"/>
<rect x="2641" y="219" width="21" height="5" fill="#bebebe"/>
<rect x="2641" y="413" width="21" height="5" fill="#bebebe"/>
<rect x="2649" y="221.7" width="5" height="87.25" fill="#bebebe"/>
<rect x="2649" y="328.34" width="5" height="87.26" fill="#bebebe"/>
<rect x="2731" y="261" width="21" height="5" fill="#bebebe"/>
<rect x="2731" y="432" width="21" height="5" fill="#bebebe"/>
<rect x="2739" y="263.6" width="5" height="76.81" fill="#bebebe"/>
<rect x="2739" y="357.49" width="5" height="76.81" fill="#bebebe"/>
<rect x="2821" y="260" width="21" height="5" fill="#bebebe"/>
<rect x="2821" y="433" width="21" height="5" fill="#bebebe"/>
<rect x="2829" y="262.4" width="5" height="77.89" fill="#bebebe"/>
<rect x="2829" y="357.61" width="5" height="77.89" fill="#bebebe"/>
<rect x="2911" y="294" width="21" height="5" fill="#bebebe"/>
<rect x="2911" y="338" width="21" height="5" fill="#bebebe"/>
<rect x="2919" y="296.8" width="5" height="19.66" fill="#bebebe"/>
<rect x="2919" y="320.83" width="5" height="19.67" fill="#bebebe"/>
<rect x="3001" y="400" width="21" height="5" fill="#bebebe"/>
<rect x="3001" y="436" width="21" height="5" fill="#bebebe"/>
<rect x="3009" y="402.5" width="5" height="16.15" fill="#bebebe"/>
<rect x="3009" y="422.25" width="5" height="16.15" fill="#bebebe"/>
<rect x="3091" y="390" width="21" height="5" fill="#bebebe"/>
<rect x="3091" y="437" width="21" height="5" fill="#bebebe"/>
<rect x="3099" y="392.5" width="5" height="21.15" fill="#bebebe"/>
<rect x="3099" y="418.35" width="5" height="21.15" fill="#bebebe"/>
<rect x="3181" y="146" width="21" height="5" fill="#bebebe"/>
<rect x="3181" y="191" width="21" height="5" fill="#bebebe"/>
<rect x="3189" y="148.6" width="5" height="20.07" fill="#bebebe"/>
<rect x="3189" y="173.13" width="5" height="20.07" fill="#bebebe"/>
<rect x="3271" y="258" width="21" height="5" fill="#bebebe"/>
<rect x="3271" y="308" width="21" height="5" fill="#bebebe"/>
<rect x="3279" y="260" width="5" height="22.5" fill="#bebebe"/>
<rect x="3279" y="287.5" width="5" height="22.5" fill="#bebebe"/>
<rect x="3361" y="371" width="21" height="5" fill="#bebebe"/>
<rect x="3361" y="411" width="21" height="5" fill="#bebebe"/>
<rect x="3369" y="373.8" width="5" height="17.86" fill="#bebebe"/>
<rect x="3369" y="395.63" width="5" height="17.87" fill="#bebebe"/>
<rect x="3451" y="255" width="21" height="5" fill="#bebebe"/>
<rect x="3451" y="312" width="21" height="5" fill="#bebebe"/>
<rect x="3459" y="257.7" width="5" height="25.69" fill="#bebebe"/>
<rect x="3459" y="289.11" width="5" height="25.69" fill="#bebebe"/>
<rect x="3541" y="260" width="21" height="5" fill="#bebebe"/>
<rect x="3541" y="305" width="21" height="5" fill="#bebebe"/>
<rect x="3549" y="262" width="5" height="20.56" fill="#bebebe"/>
<rect x="3549" y="287.13" width="5" height="20.56" fill="#bebebe"/>
<rect x="3631" y="140" width="21" height="5" fill="#bebebe"/>
<rect x="3631" y="206" width="21" height="5" fill="#bebebe"/>
<rect x="3639" y="142.8" width="5" height="29.34" fill="#bebebe"/>
<rect x="3639" y="178.66" width="5" height="29.34" fill="#bebebe"/>
<rect x="3721" y="370" width="21" height="5" fill="#bebebe"/>
<rect x="3721" y="417" width="21" height="5" fill="#bebebe"/>
<rect x="3729" y="372.4" width="5" height="21.11" fill="#bebebe"/>
<rect x="3729" y="398.2" width="5" height="21.1" fill="#bebebe"/>
<rect x="3811" y="256" width="21" height="5" fill="#bebebe"/>
<rect x="3811" y="375" width="21" height="5" fill="#bebebe"/>
<rect x="3819" y="258.5" width="5" height="53.6" fill="#bebebe"/>
<rect x="3819" y="324" width="5" height="53.6" fill="#bebebe"/>
</g>
<g>
<rect x="260" y="632.8" width="5" height="453.2" fill="#000"/>
<rect x="220" y="1080.9" width="40" height="5" fill="#000"/>
<text class="n" x="216.6" y="1107.7" text-anchor="end">0.0</text>
<rect x="241" y="1060.09" width="19" height="5" fill="#000"/>
<rect x="241" y="1039.28" width="19" height="5" fill="#000"/>
<rect x="241" y="1018.47" width="19" height="5" fill="#000"/>
<rect x="241" y="997.66" width="19" height="5" fill="#000"/>
<rect x="220" y="976.85" width="40" height="5" fill="#000"/>
<text class="n" x="216.6" y="1003.65" text-anchor="end">1.0</text>
<rect x="241" y="956.04" width="19" height="5" fill="#000"/>
<rect x="241" y="935.23" width="19" height="5" fill="#000"/>
<rect x="241" y="914.42" width="19" height="5" fill="#000"/>
<rect x="241" y="893.61" width="19" height="5" fill="#000"/>
<rect x="220" y="872.8" width="40" height="5" fill="#000"/>
<text class="n" x="216.6" y="899.6" text-anchor="end">2.0</text>
<rect x="241" y="851.99" width="19" height="5" fill="#000"/>
<rect x="241" y="831.18" width="19" height="5" fill="#000"/>
<rect x="241" y="810.37" width="19" height="5" fill="#000"/>
<rect x="241" y="789.56" width="19" height="5" fill="#000"/>
<rect x="220" y="768.75" width="40" height="5" fill="#000"/>
<text class="n" x="216.6" y="795.55" text-anchor="end">3.0</text>
<rect x="241" y="747.94" width="19" height="5" fill="#000"/>
<rect x="241" y="727.13" width="19" height="5" fill="#000"/>
<rect x="241" y="706.32" width="19" height="5" fill="#000"/>
<rect x="241" y="685.51" width="19" height="5" fill="#000"/>
<rect x="220" y="664.7" width="40" height="5" fill="#000"/>
<text class="n" x="216.6" y="691.5" text-anchor="end">4.0</text>
<rect x="241" y="643.89" width="19" height="5" fill="#000"/>
<text font-size="83.33" text-anchor="middle" transform="translate(99.8 859.65) rotate(-90)">bits</text>
<rect x="266" y="1080.8" width="3600.5" height="5.2" fill="#000"/>
<rect x="309" y="1085.9" width="5" height="8.8" fill="#000"/>
<rect x="399" y="1085.9" width="5" height="8.8" fill="#000"/>
<rect x="489" y="1085.9" width="5" height="8.8" fill="#000"/>
<rect x="579" y="1085.9" width="5" height="8.8" fill="#000"/>
<rect x="669" y="1085.9" width="5" height="18.5" fill="#000"/>
<text class="n" x="671.5" y="1171.6" text-anchor="middle">45</text>
<rect x="759" y="1085.9" width="5" height="8.8" fill="#000"/>
<rect x="849" y="1085.9" width="5" height="8.8" fill="#000"/>
<rect x="939" y="1085.9" width="5" height="8.8" fill="#000"/>
<rect x="1029" y="1085.9" width="5" height="8.8" fill="#000"/>
<rect x="1119" y="1085.9" width="5" height="18.5" fill="#000"/>
<text class="n" x="1121.5" y="1171.6" text-anchor="middle">50</text>
<rect x="1209" y="1085.9" width="5" height="8.8" fill="#000"/>
<rect x="1299" y="1085.9" width="5" height="8.8" fill="#000"/>
<rect x="1389" y="1085.9" width="5" height="8.8" fill="#000"/>
<rect x="1479" y="1085.9" width="5" height="8.8" fill="#000"/>
<rect x="1569" y="1085.9" width="5" height="18.5" fill="#000"/>
<text class="n" x="1571.5" y="1171.6" text-anchor="middle">55</text>
<rect x="1659" y="1085.9" width="5" height="8.8" fill="#000"/>
<rect x="1749" y="1085.9" width="5" height="8.8" fill="#000"/>
<rect x="1839" y="1085.9" width="5" height="8.8" fill="#000"/>
<rect x="1929" y="1085.9" width="5" height="8.8" fill="#000"/>
<rect x="2019" y="1085.9" width="5" height="18.5" fill="#000"/>
<text class="n" x="2021.5" y="1171.6" text-anchor="middle">60</text>
<rect x="2109" y="1085.9" width="5" height="8.8" fill="#000"/>
<rect x="2199" y="1085.9" width="5" height="8.8" fill="#000"/>
<rect x="2289" y="1085.9" width="5" height="8.8" fill="#000"/>
<rect x="2379" y="1085.9" width="5" height="8.8" fill="#000"/>
<rect x="2469" y="1085.9" width="5" height="18.5" fill="#000"/>
<text class="n" x="2471.5" y="1171.6" text-anchor="middle">65</text>
<rect x="2559" y="1085.9" width="5" height="8.8" fill="#000"/>
<rect x="2649" y="1085.9" width="5" height="8.8" fill="#000"/>
<rect x="2739" y="1085.9" width="5" height="8.8" fill="#000"/>
<rect x="2829" y="1085.9" width="5" height="8.8" fill="#000"/>
<rect x="2919" y="1085.9" width="5" height="18.5" fill="#000"/>
<text class="n" x="2921.5" y="1171.6" text-anchor="middle">70</text>
<rect x="3009" y="1085.9" width="5" height="8.8" fill="#000"/>
<rect x="3099" y="1085.9" width="5" height="8.8" fill="#000"/>
<rect x="3189" y="1085.9" width="5" height="8.8" fill="#000"/>
<rect x="3279" y="1085.9" width="5" height="8.8" fill="#000"/>
<rect x="3369" y="1085.9" width="5" height="18.5" fill="#000"/>
<text class="n" x="3371.5" y="1171.6" text-anchor="middle">75</text>
<rect x="3459" y="1085.9" width="5" height="8.8" fill="#000"/>
<rect x="3549" y="1085.9" width="5" height="8.8" fill="#000"/>
<rect x="3639" y="1085.9" width="5" height="8.8" fill="#000"/>
<rect x="3729" y="1085.9" width="5" height="8.8" fill="#000"/>
<rect x="3819" y="1085.9" width="5" height="18.5" fill="#000"/>
<text class="n" x="3821.5" y="1171.6" text-anchor="middle">80</text>
<g filter="url(#al)">
<text class="l g" transform="matrix(1.29857 0 0 0.16102 268.86 1021.94)">S</text>
<text class="l k" transform="matrix(1.20830 0 0 0.04802 267.04 1031.45)">C</text>
<text class="l k" transform="matrix(1.53941 0 0 0.05523 261.7 1040)">L</text>
<text class="l g" transform="matrix(1.17071 0 0 0.04237 267.2 1046.96)">G</text>
<rect x="272" y="1051" width="79" height="1" fill="#000000"/>
<text class="l k" transform="matrix(1.20921 0 0 0.01599 271.17 1052.1)">V</text>
<rect x="291.75" y="1055" width="39.5" height="1" fill="#0000ff"/>
<text class="l b" transform="matrix(0.70406 0 0 0.01454 287.04 1056)">E</text>
<text class="l g" transform="matrix(1.34156 0 0 0.03198 270.49 1061)">T</text>
<text class="i k" transform="matrix(0.15677 0 0 0.09868 396.8 1046.7)">I</text>
<text class="l b" transform="matrix(0.09925 0 0 0.09739 397.69 1078.5)">R</text>
<svg x="398.35" y="1062.4" width="6.3" height="6"><text class="q b" transform="matrix(0.08400 0 0 0.07536 -0.42 5.59)">Q</text></svg>
<text class="l b" transform="matrix(0.09752 0 0 0.09739 397.7 1057)">K</text>
<text class="l g" transform="matrix(0.10716 0 0 0.09302 397.63 1035.9)">H</text>
<text class="l k" transform="matrix(0.12418 0 0 0.09302 397.52 1024.8)">F</text>
<text class="l k" transform="matrix(0.02455 0 0 0.10320 400.71 1014)">L</text>
<text class="l g" transform="matrix(0.10515 0 0 0.03672 398.05 978.66)">S</text>
<text class="l b" transform="matrix(0.10716 0 0 0.24419 397.63 971)">N</text>
<rect x="491" y="924.3" width="1" height="154.7" fill="#000000"/>
<text class="l k" transform="matrix(0.01949 0 0 2.24858 490.87 1079)">L</text>
<rect x="581" y="910" width="1" height="169" fill="#000000"/>
<text class="l k" transform="matrix(0.01531 0 0 2.45644 580.99 1079)">V</text>
<rect x="671" y="910" width="1" height="169" fill="#000000"/>
<text class="l k" transform="matrix(0.01430 0 0 2.45644 670.9 1079)">M</text>
<rect x="761" y="925" width="1" height="154" fill="#000000"/>
<text class="l k" transform="matrix(0.01949 0 0 2.23841 760.87 1079)">L</text>
<rect x="851" y="925" width="1" height="154" fill="#000000"/>
<text class="l k" transform="matrix(0.01971 0 0 2.23841 850.87 1079)">F</text>
<rect x="941" y="930.4" width="1" height="148.6" fill="#000000"/>
<text class="l k" transform="matrix(0.01578 0 0 2.15992 940.97 1079)">Y</text>
<rect x="1031" y="920" width="1" height="159" fill="#000000"/>
<text class="l k" transform="matrix(0.01062 0 0 2.31109 1031 1079)">W</text>
<rect x="1121" y="929.3" width="1" height="149.7" fill="#008000"/>
<text class="l g" transform="matrix(0.01669 0 0 2.11438 1120.95 1076.94)">S</text>
<rect x="1211" y="920" width="1" height="159" fill="#000000"/>
<text class="l k" transform="matrix(0.01949 0 0 2.31109 1210.87 1079)">L</text>
<rect x="1301" y="920" width="1" height="159" fill="#008000"/>
<text class="l g" transform="matrix(0.01698 0 0 2.31109 1300.98 1079)">T</text>
<rect x="1391" y="925" width="1" height="154" fill="#000000"/>
<text class="l k" transform="matrix(0.01531 0 0 2.23841 1390.99 1079)">V</text>
<rect x="1481" y="922.1" width="1" height="156.9" fill="#0000ff"/>
<text class="l b" transform="matrix(0.01548 0 0 2.28056 1480.9 1079)">K</text>
<rect x="1571" y="925" width="1" height="154" fill="#000000"/>
<text class="l k" transform="matrix(0.01430 0 0 2.23841 1570.9 1079)">M</text>
<rect x="1661" y="926.1" width="1" height="152.9" fill="#008000"/>
<text class="l g" transform="matrix(0.01491 0 0 2.22242 1660.96 1079)">A</text>
<rect x="1751" y="922.1" width="1" height="156.9" fill="#0000ff"/>
<text class="l b" transform="matrix(0.01782 0 0 2.28056 1750.88 1079)">E</text>
<rect x="1841" y="924.3" width="1" height="154.7" fill="#0000ff"/>
<text class="l b" transform="matrix(0.01575 0 0 2.24858 1840.89 1079)">R</text>
<rect x="1931" y="926.1" width="1" height="152.9" fill="#008000"/>
<text class="l g" transform="matrix(0.01482 0 0 2.15958 1930.94 1076.89)">G</text>
<rect x="2021" y="926.1" width="1" height="152.9" fill="#008000"/>
<text class="l g" transform="matrix(0.01767 0 0 2.22242 2020.88 1079)">P</text>
<rect x="2111" y="910" width="1" height="169" fill="#000000"/>
<text class="l k" transform="matrix(0.01949 0 0 2.45644 2110.87 1079)">L</text>
<rect x="2201" y="926.1" width="1" height="152.9" fill="#008000"/>
<text class="l g" transform="matrix(0.01669 0 0 2.15958 2200.95 1076.89)">S</text>
<rect x="2291" y="926.1" width="1" height="152.9" fill="#008000"/>
<text class="l g" transform="matrix(0.01698 0 0 2.22242 2290.98 1079)">T</text>
<rect x="2381" y="921.4" width="1" height="157.6" fill="#0000ff"/>
<text class="l b" transform="matrix(0.01631 0 0 2.29074 2380.89 1079)">D</text>
<rect x="2471" y="910" width="2" height="84" fill="#0000ff"/>
<text class="l b" transform="matrix(0.03096 0 0 1.22095 2470.79 994)">K</text>
<rect x="2471" y="998" width="2" height="81" fill="#000000"/>
<text class="l k" transform="matrix(0.03897 0 0 1.17735 2470.74 1079)">L</text>
<rect x="2561" y="927.7" width="2" height="100.3" fill="#008000"/>
<text class="l g" transform="matrix(0.03338 0 0 1.41665 2560.9 1026.62)">S</text>
<rect x="2561" y="1031" width="1" height="48" fill="#008000"/>
<text class="l g" transform="matrix(0.01698 0 0 0.69769 2560.98 1079)">T</text>
<text class="l g" transform="matrix(0.09347 0 0 0.15960 2648.43 1077.54)">S</text>
<text class="l b" transform="matrix(0.09131 0 0 0.17442 2648.09 1061.3)">D</text>
<text class="l g" transform="matrix(0.08347 0 0 0.16279 2648.49 1044.2)">A</text>
<svg x="2648.7" y="997.4" width="5.6" height="29.5"><text class="q s b" transform="matrix(0.07467 0 0 0.37053 -0.37 27.5)">Q</text></svg>
<rect x="2648.7" y="992" width="5.6" height="1" fill="#0000ff"/>
<text class="l b" transform="matrix(0.09982 0 0 0.01744 2648.03 993)">E</text>
<text class="l g" transform="matrix(0.07620 0 0 0.86629 2648.75 988)">H</text>
<text class="l g" transform="matrix(0.08846 0 0 0.17514 2738.6 1077.53)">S</text>
<text class="l b" transform="matrix(0.08642 0 0 0.20349 2738.27 1060.1)">D</text>
<text class="l b" transform="matrix(0.08350 0 0 0.49419 2738.29 1041.3)">R</text>
<text class="l g" transform="matrix(0.02250 0 0 0.22093 2740.81 1003)">T</text>
<text class="l g" transform="matrix(0.09000 0 0 1.02037 2738.75 983.5)">T</text>
<text class="i k" transform="matrix(0.42304 0 0 0.12904 2818.83 1015.8)">I</text>
<rect x="2822.4" y="1008.58" width="8.03" height="5.93" fill="#fff"/>
<rect x="2832.57" y="1008.58" width="8.03" height="5.93" fill="#fff"/>
<text class="l s k" transform="matrix(0.24184 0 0 0.54507 2823.43 982.4)">V</text>
<text class="l s b" transform="matrix(0.24891 0 0 0.19768 2821.93 1002.1)">R</text>
<text class="l g" transform="matrix(0.30040 0 0 0.11628 2820.99 1028.5)">P</text>
<text class="l b" transform="matrix(0.26316 0 0 0.07413 2821.24 1037.6)">K</text>
<text class="l k" transform="matrix(0.24313 0 0 0.06541 2821.37 1046.6)">M</text>
<text class="l b" transform="matrix(0.28917 0 0 0.07413 2821.07 1055.7)">N</text>
<text class="l g" transform="matrix(0.28869 0 0 0.07413 2822.68 1064.8)">T</text>
<text class="l b" transform="matrix(0.30301 0 0 0.05233 2820.97 1072.4)">E</text>
<text class="l b" transform="matrix(0.27720 0 0 0.04651 2821.15 1079.6)">D</text>
<text class="l b" transform="matrix(0.51030 0 0 0.16570 2903.09 1002.7)">N</text>
<text class="l k" transform="matrix(0.45919 0 0 0.13518 2906.19 1016.6)">V</text>
<text class="l b" transform="matrix(0.48917 0 0 0.10465 2903.23 1029.3)">D</text>
<text class="l b" transform="matrix(0.46440 0 0 0.11628 2903.39 1042.6)">K</text>
<text class="l g" transform="matrix(0.50073 0 0 0.10593 2905.06 1053.2)">S</text>
<rect x="2906.5" y="1057" width="30" height="1" fill="#000000"/>
<text class="l k" transform="matrix(0.58459 0 0 0.01599 2902.59 1058.1)">L</text>
<rect x="2906.5" y="1062" width="30" height="1" fill="#008000"/>
<text class="l g" transform="matrix(0.50945 0 0 0.01744 2905.93 1062.9)">T</text>
<rect x="2906.5" y="1067" width="30" height="1" fill="#008000"/>
<text class="l g" transform="matrix(0.44716 0 0 0.02326 2905.39 1068)">A</text>
<text class="l s b" transform="matrix(1.04335 0 0 0.34594 2970.82 996.4)">K</text>
<text class="l s g" transform="matrix(1.14457 0 0 0.17878 2976.51 1014.1)">T</text>
<text class="l g" transform="matrix(1.14501 0 0 0.13559 2973.9 1028.37)">S</text>
<svg x="2977.2" y="1034.2" width="68.6" height="6.2"><text class="q b" transform="matrix(0.91467 0 0 0.07787 -4.56 5.78)">Q</text></svg>
<text class="l g" transform="matrix(1.01659 0 0 0.08333 2973.03 1051.12)">G</text>
<text class="l b" transform="matrix(1.16688 0 0 0.08140 2969.39 1060.5)">N</text>
<text class="l g" transform="matrix(1.21219 0 0 0.03779 2969.09 1066.9)">P</text>
<text class="l b" transform="matrix(1.22274 0 0 0.03052 2969.02 1072.7)">E</text>
<text class="l s b" transform="matrix(1.17648 0 0 2.43754 3055.63 1009.5)">K</text>
<text class="l s b" transform="matrix(1.19729 0 0 0.17878 3055.49 1027.2)">R</text>
<text class="l k" transform="matrix(1.18166 0 0 0.10175 3062.09 1040)">V</text>
<svg x="3062.9" y="1043.9" width="77.2" height="5.2"><text class="q b" transform="matrix(1.02933 0 0 0.06531 -5.13 4.85)">Q</text></svg>
<text class="l b" transform="matrix(1.37603 0 0 0.03052 3053.7 1056.1)">E</text>
<text class="l k" transform="matrix(1.50433 0 0 0.02907 3052.84 1061.9)">L</text>
<rect x="3062.9" y="1066" width="77.2" height="1" fill="#008000"/>
<text class="l g" transform="matrix(1.31099 0 0 0.01744 3061.43 1066.9)">T</text>
<rect x="3191" y="923.6" width="1" height="155.4" fill="#0000ff"/>
<text class="l b" transform="matrix(0.01548 0 0 2.25876 3190.9 1079)">K</text>
<rect x="3281" y="923.6" width="2" height="72.4" fill="#0000ff"/>
<text class="l b" transform="matrix(0.03096 0 0 1.05234 3280.79 996)">K</text>
<rect x="3281" y="1001" width="2" height="78" fill="#000000"/>
<text class="l k" transform="matrix(0.03897 0 0 1.13374 3280.74 1079)">L</text>
<text class="i k" transform="matrix(1.92607 0 0 0.04403 3313.8 1046.8)">I</text>
<rect x="3332.8" y="1044" width="77.4" height="1" fill="#000000"/>
<rect x="3332.8" y="1046" width="77.4" height="1" fill="#000000"/>
<rect x="3332.2" y="1045" width="34.42" height="1" fill="#fff"/>
<rect x="3376.38" y="1045" width="34.42" height="1" fill="#fff"/>
<text class="l s k" transform="matrix(1.08979 0 0 0.70350 3326.11 965.2)">M</text>
<text class="l s g" transform="matrix(1.29401 0 0 0.57559 3331.95 1011.3)">T</text>
<text class="l k" transform="matrix(1.16635 0 0 0.16425 3332.6 1027.9)">V</text>
<text class="l g" transform="matrix(1.14700 0 0 0.09887 3328.1 1039.9)">G</text>
<text class="l k" transform="matrix(1.50823 0 0 0.04361 3322.71 1053.8)">L</text>
<text class="l b" transform="matrix(1.37959 0 0 0.05087 3323.57 1061.3)">E</text>
<rect x="3359.89" y="1064" width="23.22" height="1" fill="#008000"/>
<text class="l g" transform="matrix(0.38757 0 0 0.01836 3358.77 1065.18)">S</text>
<rect x="3461" y="920" width="1" height="159" fill="#000000"/>
<text class="l k" transform="matrix(0.01949 0 0 2.31109 3460.87 1079)">L</text>
<rect x="3551" y="930.4" width="1" height="148.6" fill="#000000"/>
<text class="l k" transform="matrix(0.01531 0 0 2.15992 3550.99 1079)">V</text>
<rect x="3641" y="902.1" width="1" height="176.9" fill="#008000"/>
<text class="l g" transform="matrix(0.01669 0 0 2.49856 3640.95 1076.56)">S</text>
<rect x="3731" y="903.9" width="1" height="175.1" fill="#000000"/>
<text class="l k" transform="matrix(0.01430 0 0 2.54510 3730.9 1079)">M</text>
<text class="l s b" transform="matrix(1.24250 0 0 2.58725 3775.09 1000.5)">D</text>
<text class="l s g" transform="matrix(1.27186 0 0 0.30649 3779.74 1027.2)">S</text>
<text class="l s g" transform="matrix(1.12922 0 0 0.24011 3778.77 1051.37)">G</text>
<text class="l b" transform="matrix(1.31657 0 0 0.10901 3773.99 1064.8)">N</text>
<text class="l g" transform="matrix(1.36769 0 0 0.06832 3773.65 1073.9)">P</text>
</g>
<rect x="301" y="984" width="21" height="5" fill="#bebebe"/>
<rect x="301" y="1030" width="21" height="5" fill="#bebebe"/>
<rect x="309" y="986.6" width="5" height="20.65" fill="#bebebe"/>
<rect x="309" y="1011.84" width="5" height="20.66" fill="#bebebe"/>
<rect x="391" y="901" width="21" height="5" fill="#bebebe"/>
<rect x="391" y="1002" width="21" height="5" fill="#bebebe"/>
<rect x="399" y="903.4" width="5" height="45.5" fill="#bebebe"/>
<rect x="399" y="959" width="5" height="45.5" fill="#bebebe"/>
<rect x="481" y="832" width="21" height="5" fill="#bebebe"/>
<rect x="481" y="1011" width="21" height="5" fill="#bebebe"/>
<rect x="489" y="834.5" width="5" height="80.5" fill="#bebebe"/>
<rect x="489" y="932.89" width="5" height="80.5" fill="#bebebe"/>
<rect x="571" y="816" width="21" height="5" fill="#bebebe"/>
<rect x="571" y="999" width="21" height="5" fill="#bebebe"/>
<rect x="579" y="818.4" width="5" height="82.44" fill="#bebebe"/>
<rect x="579" y="919.16" width="5" height="82.44" fill="#bebebe"/>
<rect x="661" y="816" width="21" height="5" fill="#bebebe"/>
<rect x="661" y="999" width="21" height="5" fill="#bebebe"/>
<rect x="669" y="818.4" width="5" height="82.44" fill="#bebebe"/>
<rect x="669" y="919.16" width="5" height="82.44" fill="#bebebe"/>
<rect x="751" y="832" width="21" height="5" fill="#bebebe"/>
<rect x="751" y="1013" width="21" height="5" fill="#bebebe"/>
<rect x="759" y="834.5" width="5" height="81.32" fill="#bebebe"/>
<rect x="759" y="933.88" width="5" height="81.32" fill="#bebebe"/>
<rect x="841" y="832" width="21" height="5" fill="#bebebe"/>
<rect x="841" y="1013" width="21" height="5" fill="#bebebe"/>
<rect x="849" y="834.5" width="5" height="81.32" fill="#bebebe"/>
<rect x="849" y="933.88" width="5" height="81.32" fill="#bebebe"/>
<rect x="931" y="833" width="21" height="5" fill="#bebebe"/>
<rect x="931" y="1022" width="21" height="5" fill="#bebebe"/>
<rect x="939" y="835.5" width="5" height="85.05" fill="#bebebe"/>
<rect x="939" y="939.45" width="5" height="85.05" fill="#bebebe"/>
<rect x="1021" y="828" width="21" height="5" fill="#bebebe"/>
<rect x="1021" y="1007" width="21" height="5" fill="#bebebe"/>
<rect x="1029" y="830.5" width="5" height="80.55" fill="#bebebe"/>
<rect x="1029" y="928.95" width="5" height="80.55" fill="#bebebe"/>
<rect x="1111" y="833" width="21" height="5" fill="#bebebe"/>
<rect x="1111" y="1019" width="21" height="5" fill="#bebebe"/>
<rect x="1119" y="835.5" width="5" height="83.75" fill="#bebebe"/>
<rect x="1119" y="937.86" width="5" height="83.75" fill="#bebebe"/>
<rect x="1201" y="828" width="21" height="5" fill="#bebebe"/>
<rect x="1201" y="1007" width="21" height="5" fill="#bebebe"/>
<rect x="1209" y="830.5" width="5" height="80.55" fill="#bebebe"/>
<rect x="1209" y="928.95" width="5" height="80.55" fill="#bebebe"/>
<rect x="1291" y="828" width="21" height="5" fill="#bebebe"/>
<rect x="1291" y="1007" width="21" height="5" fill="#bebebe"/>
<rect x="1299" y="830.5" width="5" height="80.55" fill="#bebebe"/>
<rect x="1299" y="928.95" width="5" height="80.55" fill="#bebebe"/>
<rect x="1381" y="832" width="21" height="5" fill="#bebebe"/>
<rect x="1381" y="1013" width="21" height="5" fill="#bebebe"/>
<rect x="1389" y="834.5" width="5" height="81.32" fill="#bebebe"/>
<rect x="1389" y="933.88" width="5" height="81.32" fill="#bebebe"/>
<rect x="1471" y="830" width="21" height="5" fill="#bebebe"/>
<rect x="1471" y="1009" width="21" height="5" fill="#bebebe"/>
<rect x="1479" y="832.7" width="5" height="80.5" fill="#bebebe"/>
<rect x="1479" y="931.1" width="5" height="80.5" fill="#bebebe"/>
<rect x="1561" y="832" width="21" height="5" fill="#bebebe"/>
<rect x="1561" y="1013" width="21" height="5" fill="#bebebe"/>
<rect x="1569" y="834.5" width="5" height="81.32" fill="#bebebe"/>
<rect x="1569" y="933.88" width="5" height="81.32" fill="#bebebe"/>
<rect x="1651" y="832" width="21" height="5" fill="#bebebe"/>
<rect x="1651" y="1014" width="21" height="5" fill="#bebebe"/>
<rect x="1659" y="834.5" width="5" height="81.81" fill="#bebebe"/>
<rect x="1659" y="934.49" width="5" height="81.81" fill="#bebebe"/>
<rect x="1741" y="830" width="21" height="5" fill="#bebebe"/>
<rect x="1741" y="1009" width="21" height="5" fill="#bebebe"/>
<rect x="1749" y="832.7" width="5" height="80.5" fill="#bebebe"/>
<rect x="1749" y="931.1" width="5" height="80.5" fill="#bebebe"/>
<rect x="1831" y="831" width="21" height="5" fill="#bebebe"/>
<rect x="1831" y="1011" width="21" height="5" fill="#bebebe"/>
<rect x="1839" y="833.4" width="5" height="81" fill="#bebebe"/>
<rect x="1839" y="932.4" width="5" height="81" fill="#bebebe"/>
<rect x="1921" y="832" width="21" height="5" fill="#bebebe"/>
<rect x="1921" y="1014" width="21" height="5" fill="#bebebe"/>
<rect x="1929" y="834.5" width="5" height="81.81" fill="#bebebe"/>
<rect x="1929" y="934.49" width="5" height="81.81" fill="#bebebe"/>
<rect x="2011" y="832" width="21" height="5" fill="#bebebe"/>
<rect x="2011" y="1014" width="21" height="5" fill="#bebebe"/>
<rect x="2019" y="834.5" width="5" height="81.81" fill="#bebebe"/>
<rect x="2019" y="934.49" width="5" height="81.81" fill="#bebebe"/>
<rect x="2101" y="816" width="21" height="5" fill="#bebebe"/>
<rect x="2101" y="999" width="21" height="5" fill="#bebebe"/>
<rect x="2109" y="818.4" width="5" height="82.44" fill="#bebebe"/>
<rect x="2109" y="919.16" width="5" height="82.44" fill="#bebebe"/>
<rect x="2191" y="832" width="21" height="5" fill="#bebebe"/>
<rect x="2191" y="1014" width="21" height="5" fill="#bebebe"/>
<rect x="2199" y="834.5" width="5" height="81.81" fill="#bebebe"/>
<rect x="2199" y="934.49" width="5" height="81.81" fill="#bebebe"/>
<rect x="2281" y="832" width="21" height="5" fill="#bebebe"/>
<rect x="2281" y="1014" width="21" height="5" fill="#bebebe"/>
<rect x="2289" y="834.5" width="5" height="81.81" fill="#bebebe"/>
<rect x="2289" y="934.49" width="5" height="81.81" fill="#bebebe"/>
<rect x="2371" y="829" width="21" height="5" fill="#bebebe"/>
<rect x="2371" y="1008" width="21" height="5" fill="#bebebe"/>
<rect x="2379" y="831.6" width="5" height="80.5" fill="#bebebe"/>
<rect x="2379" y="930" width="5" height="80.5" fill="#bebebe"/>
<rect x="2461" y="820" width="21" height="5" fill="#bebebe"/>
<rect x="2461" y="996" width="21" height="5" fill="#bebebe"/>
<rect x="2469" y="822.3" width="5" height="79.29" fill="#bebebe"/>
<rect x="2469" y="919.21" width="5" height="79.29" fill="#bebebe"/>
<rect x="2551" y="842" width="21" height="5" fill="#bebebe"/>
<rect x="2551" y="1010" width="21" height="5" fill="#bebebe"/>
<rect x="2559" y="844.5" width="5" height="75.6" fill="#bebebe"/>
<rect x="2559" y="936.9" width="5" height="75.6" fill="#bebebe"/>
<rect x="2641" y="863" width="21" height="5" fill="#bebebe"/>
<rect x="2641" y="987" width="21" height="5" fill="#bebebe"/>
<rect x="2649" y="865.5" width="5" height="55.84" fill="#bebebe"/>
<rect x="2649" y="933.75" width="5" height="55.85" fill="#bebebe"/>
<rect x="2731" y="838" width="21" height="5" fill="#bebebe"/>
<rect x="2731" y="983" width="21" height="5" fill="#bebebe"/>
<rect x="2739" y="840.5" width="5" height="65.21" fill="#bebebe"/>
<rect x="2739" y="920.2" width="5" height="65.2" fill="#bebebe"/>
<rect x="2821" y="900" width="21" height="5" fill="#bebebe"/>
<rect x="2821" y="983" width="21" height="5" fill="#bebebe"/>
<rect x="2829" y="902.6" width="5" height="37.26" fill="#bebebe"/>
<rect x="2829" y="948.14" width="5" height="37.26" fill="#bebebe"/>
<rect x="2911" y="961" width="21" height="5" fill="#bebebe"/>
<rect x="2911" y="1017" width="21" height="5" fill="#bebebe"/>
<rect x="2919" y="963.5" width="5" height="25.34" fill="#bebebe"/>
<rect x="2919" y="994.46" width="5" height="25.34" fill="#bebebe"/>
<rect x="3001" y="951" width="21" height="5" fill="#bebebe"/>
<rect x="3001" y="989" width="21" height="5" fill="#bebebe"/>
<rect x="3009" y="953.8" width="5" height="16.88" fill="#bebebe"/>
<rect x="3009" y="974.42" width="5" height="16.88" fill="#bebebe"/>
<rect x="3091" y="805" width="21" height="5" fill="#bebebe"/>
<rect x="3091" y="873" width="21" height="5" fill="#bebebe"/>
<rect x="3099" y="807.7" width="5" height="30.51" fill="#bebebe"/>
<rect x="3099" y="844.99" width="5" height="30.51" fill="#bebebe"/>
<rect x="3181" y="831" width="21" height="5" fill="#bebebe"/>
<rect x="3181" y="1011" width="21" height="5" fill="#bebebe"/>
<rect x="3189" y="833.8" width="5" height="80.87" fill="#bebebe"/>
<rect x="3189" y="932.63" width="5" height="80.87" fill="#bebebe"/>
<rect x="3271" y="844" width="21" height="5" fill="#bebebe"/>
<rect x="3271" y="998" width="21" height="5" fill="#bebebe"/>
<rect x="3279" y="847" width="5" height="69.08" fill="#bebebe"/>
<rect x="3279" y="931.42" width="5" height="69.08" fill="#bebebe"/>
<rect x="3361" y="886" width="21" height="5" fill="#bebebe"/>
<rect x="3361" y="941" width="21" height="5" fill="#bebebe"/>
<rect x="3369" y="888.8" width="5" height="24.57" fill="#bebebe"/>
<rect x="3369" y="918.83" width="5" height="24.57" fill="#bebebe"/>
<rect x="3451" y="828" width="21" height="5" fill="#bebebe"/>
<rect x="3451" y="1007" width="21" height="5" fill="#bebebe"/>
<rect x="3459" y="830.5" width="5" height="80.55" fill="#bebebe"/>
<rect x="3459" y="928.95" width="5" height="80.55" fill="#bebebe"/>
<rect x="3541" y="833" width="21" height="5" fill="#bebebe"/>
<rect x="3541" y="1022" width="21" height="5" fill="#bebebe"/>
<rect x="3549" y="835.5" width="5" height="85.05" fill="#bebebe"/>
<rect x="3549" y="939.45" width="5" height="85.05" fill="#bebebe"/>
<rect x="3631" y="802" width="21" height="5" fill="#bebebe"/>
<rect x="3631" y="996" width="21" height="5" fill="#bebebe"/>
<rect x="3639" y="804.5" width="5" height="87.3" fill="#bebebe"/>
<rect x="3639" y="911.2" width="5" height="87.3" fill="#bebebe"/>
<rect x="3721" y="806" width="21" height="5" fill="#bebebe"/>
<rect x="3721" y="997" width="21" height="5" fill="#bebebe"/>
<rect x="3729" y="808.4" width="5" height="86" fill="#bebebe"/>
<rect x="3729" y="913.5" width="5" height="86" fill="#bebebe"/>
<rect x="3811" y="790" width="21" height="5" fill="#bebebe"/>
<rect x="3811" y="849" width="21" height="5" fill="#bebebe"/>
<rect x="3819" y="792.7" width="5" height="26.37" fill="#bebebe"/>
<rect x="3819" y="824.93" width="5" height="26.37" fill="#bebebe"/>
</g>
<g>
<rect x="260" y="1215.9" width="5" height="453.2" fill="#000"/>
<rect x="220" y="1664" width="40" height="5" fill="#000"/>
<text class="n" x="216.6" y="1690.8" text-anchor="end">0.0</text>
<rect x="241" y="1643.19" width="19" height="5" fill="#000"/>
<rect x="241" y="1622.38" width="19" height="5" fill="#000"/>
<rect x="241" y="1601.57" width="19" height="5" fill="#000"/>
<rect x="241" y="1580.76" width="19" height="5" fill="#000"/>
<rect x="220" y="1559.95" width="40" height="5" fill="#000"/>
<text class="n" x="216.6" y="1586.75" text-anchor="end">1.0</text>
<rect x="241" y="1539.14" width="19" height="5" fill="#000"/>
<rect x="241" y="1518.33" width="19" height="5" fill="#000"/>
<rect x="241" y="1497.52" width="19" height="5" fill="#000"/>
<rect x="241" y="1476.71" width="19" height="5" fill="#000"/>
<rect x="220" y="1455.9" width="40" height="5" fill="#000"/>
<text class="n" x="216.6" y="1482.7" text-anchor="end">2.0</text>
<rect x="241" y="1435.09" width="19" height="5" fill="#000"/>
<rect x="241" y="1414.28" width="19" height="5" fill="#000"/>
<rect x="241" y="1393.47" width="19" height="5" fill="#000"/>
<rect x="241" y="1372.66" width="19" height="5" fill="#000"/>
<rect x="220" y="1351.85" width="40" height="5" fill="#000"/>
<text class="n" x="216.6" y="1378.65" text-anchor="end">3.0</text>
<rect x="241" y="1331.04" width="19" height="5" fill="#000"/>
<rect x="241" y="1310.23" width="19" height="5" fill="#000"/>
<rect x="241" y="1289.42" width="19" height="5" fill="#000"/>
<rect x="241" y="1268.61" width="19" height="5" fill="#000"/>
<rect x="220" y="1247.8" width="40" height="5" fill="#000"/>
<text class="n" x="216.6" y="1274.6" text-anchor="end">4.0</text>
<rect x="241" y="1226.99" width="19" height="5" fill="#000"/>
<text font-size="83.33" text-anchor="middle" transform="translate(99.8 1442.75) rotate(-90)">bits</text>
<rect x="266" y="1663.9" width="1440.5" height="5.2" fill="#000"/>
<rect x="309" y="1669" width="5" height="8.8" fill="#000"/>
<rect x="399" y="1669" width="5" height="8.8" fill="#000"/>
<rect x="489" y="1669" width="5" height="8.8" fill="#000"/>
<rect x="579" y="1669" width="5" height="8.8" fill="#000"/>
<rect x="669" y="1669" width="5" height="18.5" fill="#000"/>
<text class="n" x="671.5" y="1754.7" text-anchor="middle">85</text>
<rect x="759" y="1669" width="5" height="8.8" fill="#000"/>
<rect x="849" y="1669" width="5" height="8.8" fill="#000"/>
<rect x="939" y="1669" width="5" height="8.8" fill="#000"/>
<rect x="1029" y="1669" width="5" height="8.8" fill="#000"/>
<rect x="1119" y="1669" width="5" height="18.5" fill="#000"/>
<text class="n" x="1121.5" y="1754.7" text-anchor="middle">90</text>
<rect x="1209" y="1669" width="5" height="8.8" fill="#000"/>
<rect x="1299" y="1669" width="5" height="8.8" fill="#000"/>
<rect x="1389" y="1669" width="5" height="8.8" fill="#000"/>
<rect x="1479" y="1669" width="5" height="8.8" fill="#000"/>
<rect x="1569" y="1669" width="5" height="18.5" fill="#000"/>
<text class="n" x="1571.5" y="1754.7" text-anchor="middle">95</text>
<rect x="1659" y="1669" width="5" height="8.8" fill="#000"/>
<g filter="url(#al)">
<text class="i k" transform="matrix(1.93602 0 0 0.05769 253.5 1642.8)">I</text>
<rect x="272.6" y="1639" width="77.8" height="1" fill="#000000"/>
<rect x="272.6" y="1642" width="77.8" height="1" fill="#000000"/>
<rect x="272" y="1640" width="34.6" height="2" fill="#fff"/>
<rect x="316.4" y="1640" width="34.6" height="2" fill="#fff"/>
<text class="l s b" transform="matrix(1.18577 0 0 1.16136 265.27 1568.9)">K</text>
<text class="l s g" transform="matrix(1.30080 0 0 0.34158 271.74 1598)">T</text>
<text class="l s b" transform="matrix(1.20674 0 0 0.26745 265.13 1622.1)">R</text>
<svg x="272.6" y="1626.8" width="77.8" height="7.3"><text class="q b" transform="matrix(1.03733 0 0 0.09169 -5.17 6.81)">Q</text></svg>
<text class="l k" transform="matrix(1.51603 0 0 0.05087 262.46 1650.7)">L</text>
<text class="l s g" transform="matrix(1.13579 0 0 2.48696 360.57 1607.3)">A</text>
<text class="l s g" transform="matrix(1.27186 0 0 0.18361 359.74 1625.42)">S</text>
<text class="l k" transform="matrix(1.18472 0 0 0.14244 361.99 1639.9)">V</text>
<text class="l g" transform="matrix(1.36769 0 0 0.05814 353.65 1648.1)">P</text>
<text class="l g" transform="matrix(1.31439 0 0 0.03052 361.32 1653.7)">T</text>
<text class="l s g" transform="matrix(1.27520 0 0 1.20761 449.63 1591.22)">S</text>
<text class="l b" transform="matrix(1.26532 0 0 0.15698 444.24 1607.9)">D</text>
<text class="l g" transform="matrix(1.31778 0 0 0.12646 451.22 1620.6)">T</text>
<text class="l g" transform="matrix(1.15666 0 0 0.09884 449.82 1631.8)">A</text>
<text class="l k" transform="matrix(1.18778 0 0 0.03052 451.89 1638.8)">V</text>
<svg x="452.7" y="1642" width="77.6" height="2.1"><text class="q b" transform="matrix(1.03467 0 0 0.02638 -5.15 1.96)">Q</text></svg>
<rect x="472.1" y="1646" width="38.8" height="1" fill="#0000ff"/>
<text class="l b" transform="matrix(0.69158 0 0 0.01454 467.47 1646.8)">E</text>
<rect x="464.34" y="1650" width="54.32" height="1" fill="#000000"/>
<text class="l k" transform="matrix(1.05849 0 0 0.01599 457.26 1650.9)">L</text>
<text class="i k" transform="matrix(1.92855 0 0 1.00199 523.73 1523.4)">I</text>
<rect x="542.15" y="1462.55" width="34.47" height="55.7" fill="#fff"/>
<rect x="586.38" y="1462.55" width="34.47" height="55.7" fill="#fff"/>
<text class="l s k" transform="matrix(1.09122 0 0 0.70931 536.05 1577.2)">M</text>
<text class="l s k" transform="matrix(1.16788 0 0 0.53489 542.55 1619.5)">V</text>
<text class="l s k" transform="matrix(1.48680 0 0 0.27326 533.4 1643.5)">L</text>
<svg x="542.75" y="1648.1" width="77.5" height="2.9"><text class="q b" transform="matrix(1.03333 0 0 0.03643 -5.15 2.7)">Q</text></svg>
<text class="i k" transform="matrix(1.92358 0 0 0.44330 613.88 1637.1)">I</text>
<rect x="632.25" y="1610.18" width="34.38" height="24.64" fill="#fff"/>
<rect x="676.37" y="1610.18" width="34.38" height="24.64" fill="#fff"/>
<text class="l s k" transform="matrix(1.48290 0 0 2.68464 623.53 1603.3)">L</text>
<text class="l s k" transform="matrix(1.16482 0 0 0.18896 632.65 1655.7)">V</text>
<rect x="632.85" y="1660" width="77.3" height="1" fill="#000000"/>
<text class="l k" transform="matrix(1.10552 0 0 0.01599 625.45 1661.1)">M</text>
<text class="l s g" transform="matrix(1.13811 0 0 0.41807 718.43 1580.69)">G</text>
<text class="l s b" transform="matrix(1.25228 0 0 0.38227 714.72 1613.1)">D</text>
<text class="l b" transform="matrix(1.39029 0 0 0.10611 713.2 1626.2)">E</text>
<text class="l g" transform="matrix(1.30191 0 0 0.04378 718.75 1633.16)">S</text>
<rect x="742" y="1636" width="39" height="1" fill="#008000"/>
<text class="l g" transform="matrix(0.58131 0 0 0.01599 740.55 1636.9)">A</text>
<text class="l s b" transform="matrix(1.36177 0 0 1.00002 804.19 1560.1)">E</text>
<text class="l s b" transform="matrix(1.24576 0 0 0.73112 804.97 1615.7)">D</text>
<text class="l g" transform="matrix(1.14996 0 0 0.08616 807.98 1627.02)">G</text>
<text class="l b" transform="matrix(1.20125 0 0 0.08140 804.66 1636.2)">K</text>
<text class="l k" transform="matrix(1.51213 0 0 0.03779 802.58 1642.8)">L</text>
<rect x="812.7" y="1647" width="77.6" height="1" fill="#008000"/>
<text class="l g" transform="matrix(1.29523 0 0 0.01695 808.97 1648.08)">S</text>
<rect x="812.7" y="1651" width="77.6" height="1" fill="#008000"/>
<text class="l g" transform="matrix(1.31778 0 0 0.02616 811.22 1653)">T</text>
<text class="i k" transform="matrix(1.92855 0 0 0.25201 883.73 1652.4)">I</text>
<rect x="902.15" y="1637.09" width="34.47" height="14.01" fill="#fff"/>
<rect x="946.38" y="1637.09" width="34.47" height="14.01" fill="#fff"/>
<text class="l s g" transform="matrix(1.13728 0 0 1.72532 900.52 1584.2)">A</text>
<text class="l s g" transform="matrix(1.29571 0 0 0.25000 901.89 1606.9)">T</text>
<text class="l s k" transform="matrix(1.20387 0 0 0.25873 901.29 1630.4)">Y</text>
<text class="l g" transform="matrix(1.29356 0 0 0.02966 899.02 1657.97)">S</text>
<text class="i k" transform="matrix(1.94100 0 0 2.55203 973.36 1578.2)">I</text>
<rect x="991.9" y="1423.21" width="34.69" height="141.88" fill="#fff"/>
<rect x="1036.41" y="1423.21" width="34.69" height="141.88" fill="#fff"/>
<text class="l s k" transform="matrix(1.17553 0 0 0.59158 992.3 1623.4)">V</text>
<text class="l k" transform="matrix(1.19301 0 0 0.05650 987.61 1632.84)">C</text>
<rect x="992.5" y="1637" width="78" height="1" fill="#008000"/>
<text class="l g" transform="matrix(1.32458 0 0 0.01744 991.01 1637.9)">T</text>
<rect x="992.5" y="1642" width="78" height="1" fill="#000000"/>
<text class="l k" transform="matrix(1.51992 0 0 0.01744 982.33 1642.8)">L</text>
<text class="l g" transform="matrix(1.37829 0 0 0.03052 983.28 1648.1)">P</text>
<rect x="992.5" y="1653" width="78" height="1" fill="#008000"/>
<text class="l g" transform="matrix(1.16262 0 0 0.01744 989.6 1654.2)">A</text>
<text class="l s b" transform="matrix(1.36890 0 0 0.32413 1073.94 1572.4)">E</text>
<text class="l s b" transform="matrix(1.30637 0 0 0.23983 1074.36 1594.2)">N</text>
<text class="l s b" transform="matrix(1.25228 0 0 0.19186 1074.72 1613.1)">D</text>
<text class="l b" transform="matrix(1.20744 0 0 0.12791 1074.42 1626.8)">K</text>
<text class="l g" transform="matrix(1.30191 0 0 0.09181 1078.75 1637.01)">S</text>
<text class="l b" transform="matrix(1.22880 0 0 0.06832 1074.28 1646.3)">R</text>
<rect x="1082.5" y="1650" width="78" height="1" fill="#0000ff"/>
<svg x="1082.5" y="1649.8" width="78" height="1.2"><text class="q b" transform="matrix(1.04000 0 0 0.01507 -5.18 1.12)">Q</text></svg>
<text class="l s k" transform="matrix(1.21018 0 0 3.75733 1171.08 1577.1)">Y</text>
<text class="l s g" transform="matrix(1.30466 0 0 0.40117 1164.42 1610.2)">H</text>
<text class="l s k" transform="matrix(1.51185 0 0 0.19477 1163.04 1628.1)">F</text>
<text class="l k" transform="matrix(1.51798 0 0 0.07122 1162.4 1638.9)">L</text>
<svg x="1172.55" y="1642.8" width="77.9" height="3.2"><text class="q b" transform="matrix(1.03867 0 0 0.04019 -5.17 2.98)">Q</text></svg>
<text class="i k" transform="matrix(1.89620 0 0 1.20997 1244.7 1610.8)">I</text>
<rect x="1262.8" y="1537.32" width="33.9" height="67.27" fill="#fff"/>
<rect x="1306.3" y="1537.32" width="33.9" height="67.27" fill="#fff"/>
<text class="l s k" transform="matrix(1.14798 0 0 1.22677 1263.22 1525.1)">V</text>
<text class="l s k" transform="matrix(1.46147 0 0 0.50001 1254.22 1650.1)">L</text>
<text class="l k" transform="matrix(1.08979 0 0 0.09884 1256.11 1661.8)">M</text>
<text class="l s b" transform="matrix(1.15790 0 0 2.30963 1346.35 1583.5)">K</text>
<svg x="1354.1" y="1588.4" width="74.8" height="18.3"><text class="q s b" transform="matrix(0.99733 0 0 0.22985 -4.97 17.06)">Q</text></svg>
<text class="l s b" transform="matrix(1.17839 0 0 0.20785 1346.22 1628.3)">R</text>
<text class="l b" transform="matrix(1.29276 0 0 0.06832 1344.85 1637.2)">N</text>
<text class="l g" transform="matrix(1.29061 0 0 0.03779 1352.05 1644.3)">T</text>
<rect x="1353.5" y="1648" width="76" height="1" fill="#0000ff"/>
<text class="l b" transform="matrix(1.35464 0 0 0.01890 1344.44 1649.2)">E</text>
<rect x="1353.5" y="1653" width="76" height="1" fill="#008000"/>
<text class="l g" transform="matrix(1.26852 0 0 0.02119 1349.85 1654.28)">S</text>
<rect x="1353.5" y="1658" width="76" height="1" fill="#008000"/>
<text class="l g" transform="matrix(1.13281 0 0 0.02180 1350.68 1659.2)">A</text>
<text class="l s b" transform="matrix(1.32968 0 0 0.42733 1435.31 1569.4)">E</text>
<text class="l s k" transform="matrix(1.47046 0 0 0.26309 1434.36 1593.1)">F</text>
<text class="l g" transform="matrix(1.24516 0 0 0.16243 1440.61 1610.04)">S</text>
<svg x="1443.6" y="1616.5" width="75.8" height="11.8"><text class="q b" transform="matrix(1.01067 0 0 0.14821 -5.03 11)">Q</text></svg>
<text class="l b" transform="matrix(1.23597 0 0 0.09302 1435.33 1638.3)">D</text>
<text class="l g" transform="matrix(1.12983 0 0 0.03198 1440.79 1644.3)">A</text>
<rect x="1464.44" y="1646" width="34.11" height="1" fill="#000000"/>
<text class="l k" transform="matrix(0.52210 0 0 0.01454 1464.09 1646.8)">V</text>
<text class="l s k" transform="matrix(1.42249 0 0 4.66142 1525.48 1657.1)">L</text>
<rect x="1551.1" y="1661" width="40.81" height="1" fill="#000000"/>
<text class="l k" transform="matrix(0.58365 0 0 0.01599 1547.19 1662)">M</text>
<svg x="1639.7" y="1326.8" width="43.6" height="260.3"><text class="q s b" transform="matrix(0.58133 0 0 3.26946 -2.9 242.66)">Q</text></svg>
<text class="l s b" transform="matrix(0.77713 0 0 0.73257 1634.5 1645.2)">E</text>
<text class="l b" transform="matrix(0.69350 0 0 0.11192 1634.46 1657.7)">K</text>
</g>
<rect x="301" y="1458" width="21" height="5" fill="#bebebe"/>
<rect x="301" y="1512" width="21" height="5" fill="#bebebe"/>
<rect x="309" y="1460.9" width="5" height="23.94" fill="#bebebe"/>
<rect x="309" y="1490.16" width="5" height="23.94" fill="#bebebe"/>
<rect x="391" y="1401" width="21" height="5" fill="#bebebe"/>
<rect x="391" y="1464" width="21" height="5" fill="#bebebe"/>
<rect x="399" y="1403.1" width="5" height="28.49" fill="#bebebe"/>
<rect x="399" y="1437.91" width="5" height="28.49" fill="#bebebe"/>
<rect x="481" y="1472" width="21" height="5" fill="#bebebe"/>
<rect x="481" y="1536" width="21" height="5" fill="#bebebe"/>
<rect x="489" y="1475" width="5" height="28.66" fill="#bebebe"/>
<rect x="489" y="1510.03" width="5" height="28.67" fill="#bebebe"/>
<rect x="571" y="1433" width="21" height="5" fill="#bebebe"/>
<rect x="571" y="1479" width="21" height="5" fill="#bebebe"/>
<rect x="579" y="1435.1" width="5" height="20.75" fill="#bebebe"/>
<rect x="579" y="1460.46" width="5" height="20.74" fill="#bebebe"/>
<rect x="661" y="1387" width="21" height="5" fill="#bebebe"/>
<rect x="661" y="1444" width="21" height="5" fill="#bebebe"/>
<rect x="669" y="1389.8" width="5" height="25.33" fill="#bebebe"/>
<rect x="669" y="1420.76" width="5" height="25.34" fill="#bebebe"/>
<rect x="751" y="1523" width="21" height="5" fill="#bebebe"/>
<rect x="751" y="1574" width="21" height="5" fill="#bebebe"/>
<rect x="759" y="1525.8" width="5" height="22.86" fill="#bebebe"/>
<rect x="759" y="1553.74" width="5" height="22.86" fill="#bebebe"/>
<rect x="841" y="1462" width="21" height="5" fill="#bebebe"/>
<rect x="841" y="1516" width="21" height="5" fill="#bebebe"/>
<rect x="849" y="1464.4" width="5" height="24.3" fill="#bebebe"/>
<rect x="849" y="1494.1" width="5" height="24.3" fill="#bebebe"/>
<rect x="931" y="1438" width="21" height="5" fill="#bebebe"/>
<rect x="931" y="1490" width="21" height="5" fill="#bebebe"/>
<rect x="939" y="1440.2" width="5" height="23.4" fill="#bebebe"/>
<rect x="939" y="1468.8" width="5" height="23.4" fill="#bebebe"/>
<rect x="1021" y="1377" width="21" height="5" fill="#bebebe"/>
<rect x="1021" y="1439" width="21" height="5" fill="#bebebe"/>
<rect x="1029" y="1379.2" width="5" height="27.99" fill="#bebebe"/>
<rect x="1029" y="1413.41" width="5" height="27.99" fill="#bebebe"/>
<rect x="1111" y="1527" width="21" height="5" fill="#bebebe"/>
<rect x="1111" y="1565" width="21" height="5" fill="#bebebe"/>
<rect x="1119" y="1529.3" width="5" height="17.1" fill="#bebebe"/>
<rect x="1119" y="1550.2" width="5" height="17.1" fill="#bebebe"/>
<rect x="1201" y="1282" width="21" height="5" fill="#bebebe"/>
<rect x="1201" y="1349" width="21" height="5" fill="#bebebe"/>
<rect x="1209" y="1284.5" width="5" height="30.06" fill="#bebebe"/>
<rect x="1209" y="1321.24" width="5" height="30.06" fill="#bebebe"/>
<rect x="1291" y="1417" width="21" height="5" fill="#bebebe"/>
<rect x="1291" y="1458" width="21" height="5" fill="#bebebe"/>
<rect x="1299" y="1419.1" width="5" height="18.5" fill="#bebebe"/>
<rect x="1299" y="1441.71" width="5" height="18.49" fill="#bebebe"/>
<rect x="1381" y="1389" width="21" height="5" fill="#bebebe"/>
<rect x="1381" y="1452" width="21" height="5" fill="#bebebe"/>
<rect x="1389" y="1391.6" width="5" height="28.44" fill="#bebebe"/>
<rect x="1389" y="1426.36" width="5" height="28.44" fill="#bebebe"/>
<rect x="1471" y="1514" width="21" height="5" fill="#bebebe"/>
<rect x="1471" y="1558" width="21" height="5" fill="#bebebe"/>
<rect x="1479" y="1516.6" width="5" height="19.66" fill="#bebebe"/>
<rect x="1479" y="1540.63" width="5" height="19.67" fill="#bebebe"/>
<rect x="1561" y="1309" width="21" height="5" fill="#bebebe"/>
<rect x="1561" y="1357" width="21" height="5" fill="#bebebe"/>
<rect x="1569" y="1311.6" width="5" height="21.38" fill="#bebebe"/>
<rect x="1569" y="1337.72" width="5" height="21.38" fill="#bebebe"/>
<rect x="1651" y="1288" width="21" height="5" fill="#bebebe"/>
<rect x="1651" y="1360" width="21" height="5" fill="#bebebe"/>
<rect x="1659" y="1290.5" width="5" height="32.31" fill="#bebebe"/>
<rect x="1659" y="1329.99" width="5" height="32.31" fill="#bebebe"/>
</g>
<text font-size="50" text-anchor="end" x="3866.5" y="1815.8">WebLogo 3.4</text>
</svg>
</body></html>
